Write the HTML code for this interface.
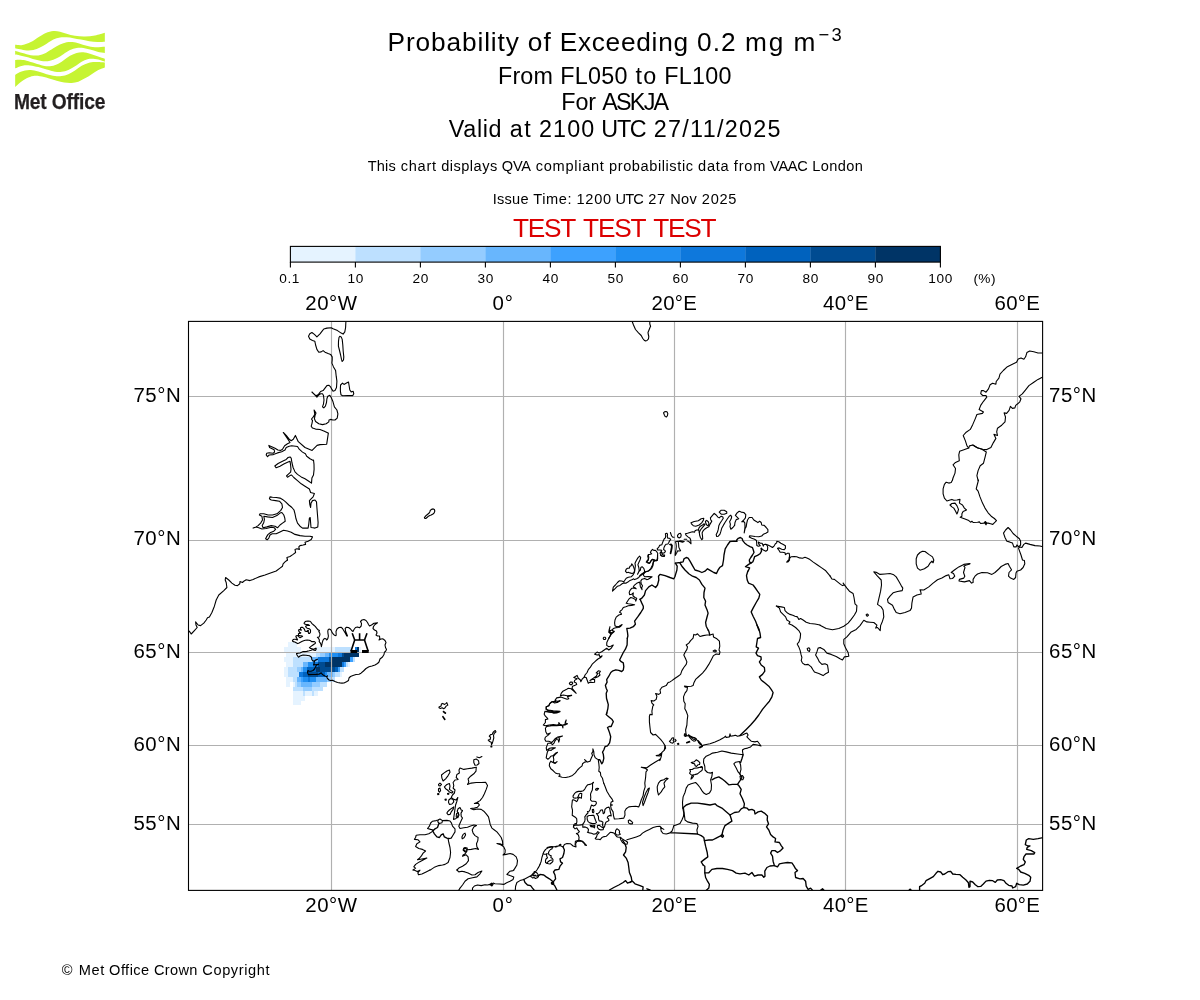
<!DOCTYPE html>
<html><head><meta charset="utf-8"><title>Probability of Exceeding 0.2 mg m-3</title>
<style>
html,body{margin:0;padding:0;background:#fff;}
body{width:1200px;height:1000px;position:relative;overflow:hidden;font-family:"Liberation Sans",sans-serif;}
.t{position:absolute;white-space:nowrap;font-family:"Liberation Sans",sans-serif;}
.t span{position:absolute;top:0;white-space:nowrap;}
svg{position:absolute;left:0;top:0;}
#map path.c{fill:none;stroke:#000;stroke-width:1.1;stroke-linejoin:round;stroke-linecap:round;}
#map path.b{fill:none;stroke:#000;stroke-width:1.35;stroke-linejoin:round;stroke-linecap:round;}
</style></head><body>
<svg id="gfx" width="1200" height="1000" viewBox="0 0 1200 1000">
<g id="logo">
<path d="M15.17 44.83 C16.39 44.86 19.89 45.46 22.50 45.00 C25.11 44.54 28.06 43.47 30.83 42.08 C33.61 40.69 36.67 38.19 39.17 36.67 C41.67 35.14 43.47 33.85 45.83 32.92 C48.19 31.99 50.97 31.29 53.33 31.08 C55.69 30.88 57.78 31.22 60.00 31.67 C62.22 32.11 64.17 33.06 66.67 33.75 C69.17 34.44 71.94 35.38 75.00 35.83 C78.06 36.29 81.67 36.57 85.00 36.50 C88.33 36.43 91.69 36.06 95.00 35.42 C98.31 34.78 103.19 33.12 104.83 32.67 L104.83 41.67 C103.61 41.74 100.11 42.15 97.50 42.08 C94.89 42.01 91.94 41.67 89.17 41.25 C86.39 40.83 83.47 40.10 80.83 39.58 C78.19 39.07 75.69 38.54 73.33 38.17 C70.97 37.79 68.89 37.44 66.67 37.33 C64.44 37.22 62.22 37.12 60.00 37.50 C57.78 37.88 55.56 38.54 53.33 39.58 C51.11 40.62 48.89 42.43 46.67 43.75 C44.44 45.07 42.22 46.46 40.00 47.50 C37.78 48.54 35.56 49.51 33.33 50.00 C31.11 50.49 28.89 50.56 26.67 50.42 C24.44 50.28 21.92 49.54 20.00 49.17 C18.08 48.79 15.97 48.33 15.17 48.17 Z" fill="#c6f432"/>
<path d="M15.17 50.67 C16.39 51.04 19.89 52.17 22.50 52.92 C25.11 53.67 28.19 54.75 30.83 55.17 C33.47 55.58 35.83 55.79 38.33 55.42 C40.83 55.04 43.33 54.10 45.83 52.92 C48.33 51.74 50.97 49.72 53.33 48.33 C55.69 46.94 57.78 45.58 60.00 44.58 C62.22 43.58 64.58 42.75 66.67 42.33 C68.75 41.92 70.42 41.89 72.50 42.08 C74.58 42.28 76.81 42.88 79.17 43.50 C81.53 44.12 84.03 45.19 86.67 45.83 C89.31 46.47 91.97 47.17 95.00 47.33 C98.03 47.50 103.19 46.92 104.83 46.83 L104.83 52.92 C103.61 52.71 99.97 52.22 97.50 51.67 C95.03 51.11 92.36 50.21 90.00 49.58 C87.64 48.96 85.56 48.19 83.33 47.92 C81.11 47.64 78.89 47.57 76.67 47.92 C74.44 48.26 72.22 48.96 70.00 50.00 C67.78 51.04 65.56 52.78 63.33 54.17 C61.11 55.56 58.89 57.22 56.67 58.33 C54.44 59.44 52.22 60.35 50.00 60.83 C47.78 61.32 45.83 61.46 43.33 61.25 C40.83 61.04 37.78 60.28 35.00 59.58 C32.22 58.89 29.17 57.78 26.67 57.08 C24.17 56.39 21.92 55.83 20.00 55.42 C18.08 55.00 15.97 54.72 15.17 54.58 Z" fill="#c6f432"/>
<path d="M15.17 60.00 C16.11 59.97 18.92 59.69 20.83 59.83 C22.75 59.97 24.31 60.25 26.67 60.83 C29.03 61.42 32.22 62.53 35.00 63.33 C37.78 64.14 40.83 65.18 43.33 65.67 C45.83 66.15 47.78 66.43 50.00 66.25 C52.22 66.07 54.44 65.56 56.67 64.58 C58.89 63.61 61.11 61.88 63.33 60.42 C65.56 58.96 67.78 57.08 70.00 55.83 C72.22 54.58 74.44 53.50 76.67 52.92 C78.89 52.33 81.11 52.19 83.33 52.33 C85.56 52.47 87.64 53.10 90.00 53.75 C92.36 54.40 95.03 55.42 97.50 56.25 C99.97 57.08 103.61 58.33 104.83 58.75 L104.83 61.67 C104.03 61.39 101.92 60.49 100.00 60.00 C98.08 59.51 95.42 58.89 93.33 58.75 C91.25 58.61 89.44 58.68 87.50 59.17 C85.56 59.65 83.75 60.49 81.67 61.67 C79.58 62.85 77.22 64.86 75.00 66.25 C72.78 67.64 70.56 69.07 68.33 70.00 C66.11 70.93 63.89 71.56 61.67 71.83 C59.44 72.11 57.50 72.04 55.00 71.67 C52.50 71.29 49.44 70.35 46.67 69.58 C43.89 68.82 41.11 67.78 38.33 67.08 C35.56 66.39 32.64 65.65 30.00 65.42 C27.36 65.18 24.97 65.18 22.50 65.67 C20.03 66.15 16.39 67.89 15.17 68.33 Z" fill="#c6f432"/>
<path d="M15.17 75.00 C15.97 74.51 18.36 72.85 20.00 72.08 C21.64 71.32 23.19 70.76 25.00 70.42 C26.81 70.07 28.61 69.82 30.83 70.00 C33.06 70.18 35.69 70.81 38.33 71.50 C40.97 72.19 43.89 73.42 46.67 74.17 C49.44 74.92 52.50 75.69 55.00 76.00 C57.50 76.31 59.44 76.31 61.67 76.00 C63.89 75.69 66.11 75.10 68.33 74.17 C70.56 73.24 72.78 71.81 75.00 70.42 C77.22 69.03 79.44 67.08 81.67 65.83 C83.89 64.58 86.11 63.54 88.33 62.92 C90.56 62.29 92.25 62.15 95.00 62.08 C97.75 62.01 103.19 62.43 104.83 62.50 L104.83 67.50 C103.75 67.92 100.53 68.89 98.33 70.00 C96.14 71.11 93.89 72.78 91.67 74.17 C89.44 75.56 87.22 77.08 85.00 78.33 C82.78 79.58 80.56 80.90 78.33 81.67 C76.11 82.43 74.03 82.78 71.67 82.92 C69.31 83.06 66.67 82.88 64.17 82.50 C61.67 82.12 59.31 81.39 56.67 80.67 C54.03 79.94 51.11 78.90 48.33 78.17 C45.56 77.43 42.50 76.61 40.00 76.25 C37.50 75.89 35.56 75.65 33.33 76.00 C31.11 76.35 28.75 77.32 26.67 78.33 C24.58 79.35 22.75 80.63 20.83 82.08 C18.92 83.54 16.11 86.25 15.17 87.08 Z" fill="#c6f432"/>
</g>
<rect x="290.40" y="246.4" width="65.30" height="15.70" fill="#e5f3ff"/>
<rect x="355.40" y="246.4" width="65.30" height="15.70" fill="#bde0ff"/>
<rect x="420.40" y="246.4" width="65.30" height="15.70" fill="#94ccff"/>
<rect x="485.40" y="246.4" width="65.30" height="15.70" fill="#68b6fd"/>
<rect x="550.40" y="246.4" width="65.30" height="15.70" fill="#3da1fe"/>
<rect x="615.40" y="246.4" width="65.30" height="15.70" fill="#1f8ef1"/>
<rect x="680.40" y="246.4" width="65.30" height="15.70" fill="#0e78dc"/>
<rect x="745.40" y="246.4" width="65.30" height="15.70" fill="#0062be"/>
<rect x="810.40" y="246.4" width="65.30" height="15.70" fill="#004b91"/>
<rect x="875.40" y="246.4" width="65.30" height="15.70" fill="#003466"/>
<rect x="290.4" y="246.4" width="650.0" height="15.70" fill="none" stroke="#000" stroke-width="1.1"/>
<line x1="290.40" y1="262.1" x2="290.40" y2="267.40" stroke="#000" stroke-width="1.1"/>
<line x1="355.40" y1="262.1" x2="355.40" y2="267.40" stroke="#000" stroke-width="1.1"/>
<line x1="420.40" y1="262.1" x2="420.40" y2="267.40" stroke="#000" stroke-width="1.1"/>
<line x1="485.40" y1="262.1" x2="485.40" y2="267.40" stroke="#000" stroke-width="1.1"/>
<line x1="550.40" y1="262.1" x2="550.40" y2="267.40" stroke="#000" stroke-width="1.1"/>
<line x1="615.40" y1="262.1" x2="615.40" y2="267.40" stroke="#000" stroke-width="1.1"/>
<line x1="680.40" y1="262.1" x2="680.40" y2="267.40" stroke="#000" stroke-width="1.1"/>
<line x1="745.40" y1="262.1" x2="745.40" y2="267.40" stroke="#000" stroke-width="1.1"/>
<line x1="810.40" y1="262.1" x2="810.40" y2="267.40" stroke="#000" stroke-width="1.1"/>
<line x1="875.40" y1="262.1" x2="875.40" y2="267.40" stroke="#000" stroke-width="1.1"/>
<line x1="940.40" y1="262.1" x2="940.40" y2="267.40" stroke="#000" stroke-width="1.1"/>
<g id="map">
<clipPath id="ax"><rect x="188.5" y="321.4" width="854.0999999999999" height="569.0"/></clipPath>
<g clip-path="url(#ax)">
<rect x="288" y="642" width="9" height="5" fill="#e5f3ff"/>
<rect x="284" y="647" width="17" height="5" fill="#e5f3ff"/>
<rect x="316" y="647" width="19" height="5" fill="#e5f3ff"/>
<rect x="335" y="647" width="16" height="5" fill="#bde0ff"/>
<rect x="355" y="647" width="2" height="5" fill="#0e78dc"/>
<rect x="357" y="647" width="2" height="5" fill="#003466"/>
<rect x="359" y="647" width="2" height="5" fill="#e5f3ff"/>
<rect x="286" y="652" width="30" height="5" fill="#e5f3ff"/>
<rect x="316" y="652" width="4" height="5" fill="#bde0ff"/>
<rect x="320" y="652" width="5" height="5" fill="#94ccff"/>
<rect x="325" y="652" width="4" height="5" fill="#68b6fd"/>
<rect x="329" y="652" width="9" height="5" fill="#1f8ef1"/>
<rect x="338" y="652" width="4" height="5" fill="#0e78dc"/>
<rect x="342" y="652" width="2" height="5" fill="#004b91"/>
<rect x="344" y="652" width="15" height="5" fill="#003466"/>
<rect x="284" y="657" width="9" height="5" fill="#e5f3ff"/>
<rect x="293" y="657" width="19" height="5" fill="#bde0ff"/>
<rect x="312" y="657" width="6" height="5" fill="#68b6fd"/>
<rect x="318" y="657" width="11" height="5" fill="#0e78dc"/>
<rect x="329" y="657" width="3" height="5" fill="#004b91"/>
<rect x="332" y="657" width="18" height="5" fill="#003466"/>
<rect x="350" y="657" width="3" height="5" fill="#3da1fe"/>
<rect x="353" y="657" width="2" height="5" fill="#bde0ff"/>
<rect x="286" y="662" width="7" height="5" fill="#e5f3ff"/>
<rect x="293" y="662" width="10" height="5" fill="#bde0ff"/>
<rect x="303" y="662" width="5" height="5" fill="#68b6fd"/>
<rect x="308" y="662" width="5" height="5" fill="#1f8ef1"/>
<rect x="313" y="662" width="5" height="5" fill="#0e78dc"/>
<rect x="318" y="662" width="7" height="5" fill="#004b91"/>
<rect x="325" y="662" width="17" height="5" fill="#003466"/>
<rect x="342" y="662" width="2" height="5" fill="#0e78dc"/>
<rect x="344" y="662" width="2" height="5" fill="#3da1fe"/>
<rect x="346" y="662" width="2" height="5" fill="#bde0ff"/>
<rect x="348" y="662" width="2" height="5" fill="#e5f3ff"/>
<rect x="284" y="667" width="4" height="5" fill="#e5f3ff"/>
<rect x="288" y="667" width="9" height="5" fill="#bde0ff"/>
<rect x="297" y="667" width="4" height="5" fill="#94ccff"/>
<rect x="301" y="667" width="2" height="5" fill="#68b6fd"/>
<rect x="303" y="667" width="4" height="5" fill="#1f8ef1"/>
<rect x="307" y="667" width="9" height="5" fill="#0062be"/>
<rect x="316" y="667" width="4" height="5" fill="#003466"/>
<rect x="320" y="667" width="15" height="5" fill="#004b91"/>
<rect x="335" y="667" width="3" height="5" fill="#0062be"/>
<rect x="338" y="667" width="2" height="5" fill="#3da1fe"/>
<rect x="340" y="667" width="4" height="5" fill="#bde0ff"/>
<rect x="284" y="672" width="4" height="5" fill="#e5f3ff"/>
<rect x="288" y="672" width="11" height="5" fill="#bde0ff"/>
<rect x="299" y="672" width="4" height="5" fill="#0e78dc"/>
<rect x="303" y="672" width="5" height="5" fill="#0062be"/>
<rect x="308" y="672" width="10" height="5" fill="#004b91"/>
<rect x="318" y="672" width="7" height="5" fill="#0062be"/>
<rect x="325" y="672" width="2" height="5" fill="#1f8ef1"/>
<rect x="327" y="672" width="6" height="5" fill="#68b6fd"/>
<rect x="333" y="672" width="2" height="5" fill="#94ccff"/>
<rect x="335" y="672" width="5" height="5" fill="#bde0ff"/>
<rect x="340" y="672" width="2" height="5" fill="#e5f3ff"/>
<rect x="286" y="677" width="7" height="5" fill="#e5f3ff"/>
<rect x="293" y="677" width="4" height="5" fill="#bde0ff"/>
<rect x="297" y="677" width="4" height="5" fill="#68b6fd"/>
<rect x="301" y="677" width="2" height="5" fill="#3da1fe"/>
<rect x="303" y="677" width="5" height="5" fill="#1f8ef1"/>
<rect x="308" y="677" width="2" height="5" fill="#0e78dc"/>
<rect x="310" y="677" width="6" height="5" fill="#1f8ef1"/>
<rect x="316" y="677" width="11" height="5" fill="#68b6fd"/>
<rect x="327" y="677" width="5" height="5" fill="#94ccff"/>
<rect x="332" y="677" width="3" height="5" fill="#bde0ff"/>
<rect x="286" y="682" width="4" height="5" fill="#e5f3ff"/>
<rect x="293" y="682" width="2" height="5" fill="#e5f3ff"/>
<rect x="295" y="682" width="2" height="5" fill="#bde0ff"/>
<rect x="297" y="682" width="4" height="5" fill="#94ccff"/>
<rect x="301" y="682" width="11" height="5" fill="#68b6fd"/>
<rect x="312" y="682" width="8" height="5" fill="#94ccff"/>
<rect x="320" y="682" width="7" height="5" fill="#bde0ff"/>
<rect x="293" y="687" width="10" height="4" fill="#bde0ff"/>
<rect x="303" y="687" width="9" height="4" fill="#94ccff"/>
<rect x="312" y="687" width="11" height="4" fill="#bde0ff"/>
<rect x="293" y="691" width="10" height="5" fill="#e5f3ff"/>
<rect x="303" y="691" width="2" height="5" fill="#bde0ff"/>
<rect x="305" y="691" width="7" height="5" fill="#e5f3ff"/>
<rect x="312" y="691" width="2" height="5" fill="#bde0ff"/>
<rect x="314" y="691" width="4" height="5" fill="#e5f3ff"/>
<rect x="293" y="696" width="12" height="5" fill="#e5f3ff"/>
<rect x="293" y="701" width="8" height="4" fill="#e5f3ff"/>
<line x1="331.50" y1="321.4" x2="331.50" y2="890.4" stroke="#b0b0b0" stroke-width="1.15"/>
<line x1="503.50" y1="321.4" x2="503.50" y2="890.4" stroke="#b0b0b0" stroke-width="1.15"/>
<line x1="674.50" y1="321.4" x2="674.50" y2="890.4" stroke="#b0b0b0" stroke-width="1.15"/>
<line x1="845.50" y1="321.4" x2="845.50" y2="890.4" stroke="#b0b0b0" stroke-width="1.15"/>
<line x1="1017.50" y1="321.4" x2="1017.50" y2="890.4" stroke="#b0b0b0" stroke-width="1.15"/>
<line x1="188.5" y1="396.50" x2="1042.6" y2="396.50" stroke="#b0b0b0" stroke-width="1.15"/>
<line x1="188.5" y1="540.50" x2="1042.6" y2="540.50" stroke="#b0b0b0" stroke-width="1.15"/>
<line x1="188.5" y1="652.50" x2="1042.6" y2="652.50" stroke="#b0b0b0" stroke-width="1.15"/>
<line x1="188.5" y1="745.50" x2="1042.6" y2="745.50" stroke="#b0b0b0" stroke-width="1.15"/>
<line x1="188.5" y1="824.50" x2="1042.6" y2="824.50" stroke="#b0b0b0" stroke-width="1.15"/>
<path class="c" d="M345.9 321.5 L345.6 327.5 L344.8 331.9 L343.1 334.1 L341.2 333.1 L337.5 330.6 L333.1 328.8 L331.2 327.8 L326.9 328.1 L323.8 329.0 L322.5 330.6 L320.0 333.8 L316.9 336.9 L314.4 334.4 L311.9 332.5 L309.8 333.8 L308.5 336.2 L309.8 339.0 L312.5 340.4 L314.8 341.2 L315.6 345.0 L316.9 349.4 L318.8 352.2 L321.2 351.9 L323.1 350.6 L325.0 352.2 L328.1 353.5 L330.6 354.4 L332.2 356.9 L332.2 360.0 L331.9 363.1 L333.5 366.9 L335.6 370.6 L336.2 376.2 L336.9 381.2 L336.5 387.5 L335.0 390.6 L333.1 391.2 L331.9 389.4 L330.6 386.9 L328.8 385.2 L326.9 385.6 L325.0 388.1 L323.1 390.6 L320.6 391.5 L318.8 393.8 L316.9 395.6 L315.0 395.0 L313.1 393.1 L311.9 392.0 L315.6 395.6 L316.9 397.2 L318.8 395.0 L320.6 393.8 L322.5 393.8 L323.5 395.6 L324.0 400.0 L323.5 403.8 L322.5 406.9 L323.8 407.9 L325.4 406.2 L326.5 402.5 L326.9 398.8 L327.8 396.2 L329.8 395.2 L331.2 397.5 L332.8 401.2 L334.4 406.9 L336.9 410.0 L337.9 413.8 L337.2 418.1 L335.0 420.0 L332.8 420.0 L330.6 419.4 L329.0 420.0 L328.8 421.9 L326.2 423.8 L322.5 424.6 L318.8 423.8 L315.6 421.5 L314.4 418.8 L315.0 415.6 L316.0 413.1 L314.1 410.0 L314.8 414.4 L313.1 417.2 L311.5 419.0 L312.5 420.6 L311.9 423.8 L311.2 426.2 L312.5 428.1 L315.6 429.1 L320.0 429.5 L323.8 431.0 L328.1 433.1"/>
<path class="c" d="M339.8 336.2 L341.2 336.9 L342.2 339.4 L342.8 345.0 L343.2 351.2 L343.8 356.9 L343.5 360.0 L342.2 361.5 L341.5 359.4 L340.6 355.0 L339.4 350.0 L338.4 346.2 L338.5 341.2 L339.0 337.5Z"/>
<path class="c" d="M340.6 385.0 L342.5 383.1 L344.0 384.4 L346.5 383.1 L348.5 382.1 L349.0 385.0 L349.8 390.0 L351.2 391.9 L353.1 391.2 L353.8 393.8 L352.8 395.6 L347.5 395.6 L342.5 395.8 L341.0 394.8 L340.4 391.2 L340.4 387.5Z"/>
<path class="c" d="M328.3 433.3 L326.7 444.2 L320.0 444.6 L317.1 445.4 L312.1 450.4 L305.0 447.5 L298.3 441.7 L295.4 435.4 L293.3 439.2 L291.2 440.7 L289.2 439.2 L286.2 435.4 L283.3 432.5 L286.7 437.5 L290.0 442.5 L287.5 443.8 L284.6 445.8 L282.5 449.2 L280.8 450.4 L277.9 450.0 L275.0 448.2 L271.7 446.7 L268.8 445.4 L269.6 447.5 L274.2 449.8 L274.6 452.1 L272.9 453.3 L269.2 452.7 L266.7 453.3 L266.2 455.0 L267.5 456.7 L269.2 455.0 L273.3 454.6 L277.5 452.9 L281.7 451.7 L285.0 450.0 L286.2 447.5 L289.2 446.2 L291.7 445.7 L297.5 446.5 L299.2 449.2 L302.5 452.1 L305.4 453.8 L306.7 456.2 L310.0 458.8 L313.3 460.4"/>
<path class="c" d="M313.5 460.0 L314.0 464.4 L314.1 469.4 L313.5 475.0 L311.9 478.1 L311.5 483.1 L308.8 481.2 L305.0 478.8 L301.2 476.9 L297.5 474.4 L295.0 471.9 L293.1 467.5 L291.9 462.5 L291.2 458.1 L290.0 456.9 L288.1 457.5 L286.2 459.4 L282.5 461.2 L278.1 463.5 L274.8 466.0 L276.2 467.8 L280.0 466.2 L283.8 464.0 L287.5 462.2 L290.0 461.2 L290.6 465.0 L291.0 469.4 L290.6 472.2 L288.1 474.4 L286.5 476.0 L287.5 477.2 L290.0 475.6 L291.6 475.0 L293.8 477.5 L297.5 480.6 L301.2 483.8 L305.0 486.2 L309.4 489.0 L310.6 492.5 L314.4 493.5 L313.1 496.9 L310.6 499.4 L309.4 500.6 L309.8 504.4 L310.6 507.5 L311.0 503.1 L312.5 500.6 L315.0 500.0 L316.5 501.9 L316.9 507.5 L317.5 515.0 L318.1 522.5 L317.8 526.9 L315.0 528.1 L313.1 527.8 L311.0 527.5 L310.6 522.5 L310.2 517.5 L309.4 518.1 L308.8 523.8 L308.1 528.1 L305.0 528.1 L302.5 528.1 L300.0 526.2 L297.5 523.1 L296.0 518.8 L295.0 513.8 L294.0 510.0 L291.9 507.5 L288.8 505.0 L285.6 501.9 L282.5 499.4 L280.0 498.1 L276.2 497.5 L272.5 497.2 L270.0 496.9 L269.4 498.8 L271.2 500.0 L275.6 500.6 L279.4 501.2 L281.9 503.8 L282.5 507.5 L280.6 510.6 L276.9 513.8 L272.5 515.0 L268.1 515.0 L263.8 513.8 L260.0 513.8 L259.4 515.0 L261.9 516.2 L262.5 520.0 L260.6 523.1 L258.1 525.6 L255.6 527.2 L253.1 528.1 L256.2 526.9 L258.8 527.8 L261.9 529.0 L266.2 528.5 L271.2 527.2 L274.4 527.8 L275.6 529.4 L273.8 531.2 L270.6 532.5 L268.1 534.4 L266.5 536.9 L265.6 538.8 L267.2 539.8 L268.8 538.1 L270.0 535.0 L272.2 533.8 L276.2 533.8 L280.0 531.9 L283.5 530.2 L287.5 531.0 L291.2 532.2 L295.0 534.4 L300.0 535.6 L305.0 536.2 L310.0 536.2 L312.5 536.9 L311.2 539.4 L308.1 541.2 L305.0 542.2 L305.6 544.4 L303.1 545.0 L300.0 545.6 L298.8 546.9 L299.4 549.4 L296.9 548.8 L295.0 549.4 L295.6 552.5 L293.1 554.4 L290.0 556.5 L286.9 557.5 L287.5 560.0"/>
<path class="c" d="M263.8 516.2 L267.5 516.9 L272.5 517.5 L276.9 515.6 L280.0 513.1 L281.9 512.5 L283.8 515.0 L284.8 518.1 L285.2 521.2 L282.5 523.1 L280.0 525.0 L277.5 527.8 L275.0 526.2 L271.2 525.6 L266.9 526.9 L263.1 527.8 L262.2 525.6 L263.8 522.5 L264.4 519.4Z"/>
<path class="c" d="M287.5 560.0 L285.0 561.9 L283.1 563.8 L282.5 566.2 L280.0 568.1 L276.2 571.0 L271.2 572.8 L265.0 575.0 L258.8 576.9 L253.1 579.4 L250.0 580.6 L246.2 579.8 L243.8 581.2 L242.5 582.5 L240.0 581.5 L239.8 583.8 L237.5 585.6 L235.0 585.2 L231.9 583.1 L228.8 580.0 L225.6 577.5 L225.2 580.0 L226.2 582.5 L226.9 587.5 L223.8 590.6 L218.8 595.0 L216.2 600.0 L214.4 606.2 L211.9 612.5 L209.4 616.9 L207.5 617.8 L206.2 620.0 L203.8 623.1 L200.6 625.6 L198.1 625.0 L195.6 621.9 L196.0 625.0 L197.2 627.5 L194.4 630.6 L191.2 634.0 L189.4 631.2 L187.5 632.5"/>
<path class="c" d="M304.8 622.0 L306.0 621.3 L308.0 621.0 L309.8 621.2 L311.0 622.2 L312.0 623.6 L313.6 625.0 L315.2 626.4 L316.6 628.2 L318.0 629.8 L319.4 630.6 L318.8 631.6 L319.6 632.8 L320.0 634.2 L319.6 636.0 L318.8 637.2 L317.4 637.4 L318.6 638.4 L319.4 640.0 L319.2 641.6 L320.2 642.8 L321.0 644.6 L321.4 646.6 L321.8 644.8 L322.2 642.8 L322.8 640.8 L323.6 639.2 L324.8 638.4 L326.0 638.8 L326.6 640.0 L327.4 639.4 L328.0 638.0 L328.4 636.0 L328.0 633.6 L327.8 631.2 L328.2 629.6 L329.2 629.0 L330.4 629.4 L331.4 630.8 L332.0 632.4 L333.2 634.0 L334.4 635.2 L336.0 635.6 L336.2 634.5 L336.0 631.5 L337.0 629.0 L339.0 627.5 L341.0 627.2 L342.5 628.5 L344.0 631.0 L345.5 633.5 L346.8 636.0 L347.5 636.0 L346.5 633.5 L345.5 631.0 L345.2 628.5 L346.5 627.2 L348.5 627.5 L350.5 629.0 L352.0 630.8 L353.0 631.5 L354.0 629.5 L355.5 627.5 L357.5 627.0 L359.5 627.8 L361.2 626.0 L361.5 623.5 L360.5 621.5 L362.0 620.0 L364.0 619.5 L366.0 620.5 L367.5 622.5 L368.5 624.5 L369.5 626.0 L371.5 625.0 L374.0 623.2 L377.5 622.8 L375.0 624.5 L373.5 626.5 L373.0 628.5 L374.5 630.0 L376.5 631.0 L377.0 633.0 L376.0 635.0 L377.5 636.0 L379.5 636.0 L379.8 638.5 L379.0 640.0 L381.0 639.0 L383.0 638.8 L385.0 640.5 L386.0 642.5 L385.0 645.0 L385.5 647.5 L386.5 649.5 L385.5 651.5 L384.5 652.0 L384.0 654.5 L382.5 657.0 L380.0 659.0 L379.0 662.0 L377.5 663.5 L375.0 665.0 L372.0 666.0 L369.0 666.8 L366.0 668.5 L363.5 671.0 L361.0 673.2 L359.0 674.2 L356.0 674.5 L353.0 675.5 L350.5 676.5 L349.0 678.0 L348.5 680.5 L346.5 681.8 L344.0 683.0 L342.0 683.1 L340.0 682.9 L337.5 682.5 L335.0 681.5 L332.5 680.2 L330.5 680.5 L329.0 680.0 L327.5 678.5 L326.8 677.2 L327.5 675.8 L327.0 676.8 L325.5 676.2 L323.5 675.2 L322.0 674.0 L321.2 672.8 L320.5 673.2 L319.0 674.2 L316.0 674.4 L312.0 674.5 L308.5 674.6 L308.0 674.0 L307.5 672.0 L308.0 670.5 L309.0 671.2 L311.0 671.2 L313.0 670.5 L314.5 669.0 L315.5 667.0 L316.5 665.0 L318.5 664.4 L317.0 664.5 L315.0 664.8 L313.5 665.0 L314.0 664.0 L314.2 662.0 L315.0 660.5 L317.5 659.2 L316.0 659.8 L314.0 661.2 L312.5 660.5 L311.8 659.5 L311.5 657.2 L309.5 655.8 L306.0 655.2 L303.0 655.0 L300.0 656.0 L298.5 657.2 L297.0 655.0 L296.5 653.5 L296.6 653.8 L298.0 653.2 L300.0 653.0 L303.2 651.6 L304.8 651.6 L306.8 651.4 L309.2 650.8 L311.2 650.2 L312.8 649.6 L314.0 650.2 L315.4 650.4 L316.0 649.6 L316.2 648.2 L315.2 648.4 L313.6 649.2 L312.0 648.8 L310.4 648.4 L309.4 647.6 L311.0 646.4 L312.6 645.2 L314.0 644.2 L315.2 643.6 L315.4 642.4 L314.4 641.6 L312.8 641.6 L311.6 641.6 L310.6 640.8 L309.2 640.2 L307.2 640.0 L305.2 640.3 L303.6 640.8 L301.8 641.6 L300.0 642.4 L298.6 643.2 L297.6 643.6 L296.2 642.8 L294.8 642.0 L293.2 641.6 L292.4 641.0 L292.8 640.0 L294.0 639.2 L295.4 639.2 L296.6 639.8 L297.6 640.0 L297.0 638.6 L296.2 637.4 L295.8 636.2 L297.0 635.6 L298.2 635.8 L299.0 636.8 L299.8 637.6 L300.8 637.4 L301.8 636.8 L302.6 636.2 L301.2 635.8 L299.6 635.6 L298.6 635.2 L298.4 634.0 L299.2 633.2 L300.2 633.4 L300.8 632.8 L299.6 632.2 L298.8 631.2 L298.6 630.0 L299.4 629.6 L300.4 630.0 L301.4 630.2 L300.6 629.2 L300.4 628.0 L301.4 627.2 L302.6 627.4 L303.8 628.4 L304.6 629.6 L305.0 631.0 L306.0 631.4 L307.2 631.4 L307.8 630.4 L308.4 630.6 L308.2 632.0 L308.6 633.4 L309.6 633.4 L310.4 632.4 L310.6 630.8 L310.2 629.4 L308.8 628.6 L307.2 628.2 L306.2 627.4 L305.6 626.4 L306.4 625.6 L308.0 625.2 L309.6 625.4 L308.0 624.6 L306.0 624.4 L304.6 624.0 L304.0 623.2Z"/>
<path class="c" d="M632.0 321.0 L633.5 325.0 L635.5 329.5 L638.5 332.8 L641.2 335.5 L642.8 338.5 L644.2 340.2 L645.5 340.9 L647.0 340.5 L648.5 338.8 L648.8 336.5 L648.2 334.0 L648.0 332.5 L649.0 330.0 L650.0 327.5 L650.6 326.2 L649.8 324.0 L649.8 321.0"/>
<path class="c" d="M663.5 412.8 L664.5 411.8 L666.0 411.5 L667.2 412.1 L667.8 413.5 L667.5 415.5 L666.5 417.0 L665.2 416.5 L664.4 415.2 L664.0 414.0Z"/>
<path class="c" d="M430.2 510.5 L431.5 509.4 L433.2 508.9 L434.4 509.5 L434.8 511.0 L434.2 512.8 L433.0 514.0 L431.2 515.0 L429.8 515.5 L428.5 516.2 L427.0 517.5 L425.8 518.5 L424.9 518.4 L424.4 517.6 L425.2 516.5 L426.5 515.2 L428.0 514.0 L429.2 513.0 L429.9 511.8Z"/>
<path class="c" d="M734.6 525.4 L732.9 527.5 L730.8 529.2 L730.0 526.7 L730.4 524.2 L729.6 521.7 L731.2 518.8 L731.7 516.7 L730.8 515.2 L729.2 516.2 L727.1 519.2 L725.0 522.5 L723.3 525.4 L721.7 528.3 L720.8 531.7 L720.0 534.2 L718.3 536.2 L716.7 536.5 L716.2 534.6 L717.5 532.1 L718.3 529.2 L718.8 525.8 L720.0 523.3 L721.7 520.8 L723.3 518.3 L722.9 517.1 L721.2 516.2 L719.2 517.9 L717.9 517.1 L716.2 515.0 L714.2 513.3 L712.5 515.4 L710.4 517.9 L710.8 520.0 L711.8 521.2 L710.8 522.9 L709.6 525.0 L708.8 526.8 L706.7 527.7 L704.6 529.2 L702.9 531.2 L702.1 532.9 L702.5 535.8 L702.7 538.8 L701.8 539.6 L700.4 537.5 L699.6 535.0 L699.3 532.5 L698.8 530.0 L696.7 530.0 L695.0 530.8 L694.6 532.1 L692.5 531.7 L690.0 532.5 L687.5 533.3 L685.4 533.8 L686.2 535.4 L688.3 537.1 L690.0 538.3 L690.7 540.0 L691.0 543.8 L689.8 542.5 L688.3 541.2 L687.1 541.0"/>
<path class="c" d="M705.4 521.2 L706.7 520.4 L708.3 521.7 L709.0 523.8 L708.2 525.8 L706.7 525.0 L705.8 523.3Z"/>
<path class="c" d="M699.3 532.5 L700.4 530.0 L702.1 527.9 L703.8 525.8 L705.0 524.6 L704.2 523.8 L702.5 525.0 L700.4 526.2 L699.0 527.9 L698.3 530.0"/>
<path class="c" d="M691.0 522.7 L694.2 521.5 L698.3 520.8 L701.2 518.8 L703.8 518.3 L703.3 520.4 L701.7 522.9 L699.2 525.0 L695.8 526.2 L693.3 525.7 L691.7 524.2Z"/>
<path class="c" d="M719.2 512.1 L721.2 510.2 L724.2 510.2 L726.7 511.7 L726.8 513.3 L724.2 514.3 L721.2 514.2Z"/>
<path class="c" d="M684.2 539.2 L686.7 539.2"/>
<path class="c" d="M675.4 541.7 L677.9 541.2 L680.0 541.4 L682.5 542.2 L684.2 541.5 L682.1 541.0 L680.0 540.8 L678.3 541.7 L678.6 544.2 L678.8 547.1 L679.5 548.9 L680.6 550.7 L679.0 551.0 L677.7 550.8 L676.5 553.2 L675.2 555.4 L675.4 552.5 L676.0 549.6 L676.3 546.2 L676.0 543.5Z"/>
<path class="c" d="M669.6 544.6 L671.2 544.0 L672.3 545.4 L672.1 547.9 L671.5 550.8 L670.8 553.7 L670.2 553.3 L670.8 550.7 L671.3 547.9 L671.5 545.8 L670.8 545.0Z"/>
<path class="c" d="M665.4 533.8 L666.7 533.2 L667.5 534.2 L667.3 536.7 L667.9 538.3 L669.6 538.3 L670.7 539.3 L669.6 540.8 L668.8 542.5 L667.9 544.0 L666.2 544.2 L665.0 545.4 L664.0 547.5 L663.6 549.6 L665.0 550.4 L665.4 551.7 L664.2 552.9 L662.5 553.2 L661.2 552.1 L661.8 550.4 L660.0 550.0 L657.7 550.0 L657.1 548.8 L658.8 547.1 L659.6 545.4 L661.8 544.8 L662.5 542.9 L663.3 540.8 L664.3 538.8 L665.4 537.9 L665.7 535.8Z"/>
<path class="c" d="M652.5 549.3 L653.8 550.4 L655.4 550.4 L656.7 551.7 L657.7 553.3 L657.5 556.7 L657.1 560.4 L655.0 560.0 L652.5 559.2 L650.8 561.2 L649.6 563.3 L647.9 562.9 L646.2 562.1 L647.9 560.4 L648.3 558.3 L647.7 556.2 L648.3 554.6 L650.4 554.2 L651.7 553.8 L650.4 552.5 L651.2 550.8Z"/>
<path class="c" d="M670.4 532.5 L671.0 534.2 L671.7 536.0 L672.7 537.1 L674.2 537.3"/>
<path class="c" d="M677.5 535.4 L678.8 533.8 L680.4 533.3 L681.2 535.0 L680.7 537.1 L679.2 537.9 L677.7 537.1Z"/>
<path class="c" d="M660.4 552.1 L661.8 552.9 L662.5 554.6 L664.6 555.4 L664.2 556.5 L662.1 556.0 L660.8 554.6 L660.0 553.3Z"/>
<path class="c" d="M657.1 560.4 L654.6 560.8 L653.3 561.8 L652.5 565.0 L650.8 568.5 L648.3 571.2 L645.8 571.7 L643.3 573.5 L640.0 576.0"/>
<path class="b" d="M675.4 563.1 L680.0 562.5 L683.1 561.9 L684.0 558.8 L686.2 557.5 L688.1 558.1 L690.0 561.2 L692.5 565.6 L695.0 570.0 L698.8 571.2 L701.9 572.5 L705.0 571.2 L707.5 568.8 L710.6 570.6 L713.8 572.5 L716.5 573.5 L718.1 570.0 L720.0 567.2 L722.5 565.6 L723.5 560.0 L724.0 555.0 L725.2 548.8 L727.5 545.0 L730.0 541.5 L733.8 541.2 L736.9 541.2"/>
<path class="b" d="M736.8 541.2 L736.7 540.0 L738.3 538.3 L740.4 537.5 L742.1 538.5 L742.9 540.8 L744.6 542.9 L747.1 545.0 L750.0 546.7 L752.5 547.7 L753.3 550.0 L754.0 552.5 L752.5 555.0 L750.8 557.5 L749.3 560.0 L749.6 562.1 L751.2 562.9 L748.3 564.6 L745.4 566.7 L749.6 567.9 L748.3 570.8 L747.8 571.2"/>
<path class="b" d="M747.8 571.2 L746.5 575.6 L747.2 580.0 L748.5 583.1 L753.1 585.0 L755.0 587.5 L757.5 591.2 L759.8 594.4 L758.8 598.1 L756.2 602.5 L753.1 608.1 L751.2 611.9 L753.1 616.2 L755.6 621.2 L757.5 626.2 L758.8 630.0"/>
<path class="b" d="M680.0 563.1 L681.9 566.2 L685.0 570.0 L688.8 573.8 L692.5 576.2 L696.2 577.5 L699.4 580.0 L701.9 584.4 L705.0 588.1 L704.0 592.5 L703.8 597.5 L705.6 601.2 L705.0 605.0 L706.9 609.4 L708.1 613.1 L706.9 617.5 L705.6 622.5 L706.2 626.2 L708.1 630.0"/>
<path class="b" d="M675.4 563.1 L677.2 566.2 L676.9 570.0 L675.6 574.4 L675.0 576.5 L673.8 578.8 L670.0 577.5 L665.0 575.6 L660.0 574.4 L658.5 576.2 L658.8 580.0 L657.5 585.0 L655.6 587.5 L651.9 585.0 L648.8 586.9 L645.6 590.6 L644.4 595.0 L641.9 598.1 L640.0 599.4"/>
<path class="c" d="M734.6 525.4 L735.0 522.5 L736.2 519.6 L738.8 518.8 L737.1 517.1 L735.4 515.4 L737.1 512.9 L739.2 511.2 L741.2 512.1 L743.8 512.5 L745.8 514.6 L745.4 517.9 L743.8 520.0 L741.7 521.8 L743.8 521.5 L744.8 522.9 L745.0 526.7 L744.6 530.0 L744.2 532.9 L745.0 528.8 L746.2 526.7 L746.7 523.3 L747.5 520.0 L749.2 517.5 L752.1 517.5 L753.8 520.0 L756.7 521.7 L757.9 522.7 L759.6 521.2 L761.2 522.5 L761.7 525.0 L764.2 525.4 L766.2 527.5 L767.9 529.6 L767.9 532.1 L765.8 533.3 L763.3 534.3 L761.7 536.0 L758.8 536.8 L755.0 536.5 L751.7 536.0 L749.6 535.8 L749.3 537.1 L751.7 538.3 L754.6 539.3 L756.5 540.4 L756.7 543.3 L756.8 545.4 L758.3 546.2 L760.4 545.8 L758.8 544.2 L758.3 542.1 L760.4 543.3 L762.1 543.2 L762.9 545.0 L763.3 546.2 L763.8 544.6 L765.8 544.3 L767.9 545.0 L770.4 546.2 L772.5 547.5 L774.2 545.8 L775.4 543.8 L776.7 542.9 L776.8 541.2 L778.8 541.7 L780.8 543.3 L783.3 544.6 L785.4 545.8 L785.4 548.3 L784.2 549.6 L781.7 549.2 L779.2 547.9 L777.5 548.3 L778.8 550.0 L780.0 552.1 L782.5 552.3 L785.0 552.7 L785.4 554.6 L787.5 553.3 L789.2 553.3 L789.6 555.8 L789.0 558.3 L789.6 560.0 L788.3 561.7 L786.7 562.1 L788.8 559.6 L790.0 557.9 L791.2 556.7 L794.2 556.5 L796.7 556.7 L799.6 557.9 L802.5 558.3 L805.0 557.3 L807.5 558.3 L810.0 559.6 L813.3 562.1 L817.5 565.0 L821.7 567.9 L825.8 570.8 L828.3 573.8 L830.0 575.8"/>
<path class="b" d="M751.2 562.9 L752.9 561.7 L753.8 559.2 L754.6 556.7 L757.5 555.4 L760.0 553.8 L761.5 551.2 L761.2 548.3"/>
<path class="c" d="M761.2 548.3 L763.3 550.0 L765.8 551.2 L767.5 550.0 L767.7 547.1 L767.1 545.4 L765.8 544.3"/>
<path class="c" d="M830.0 575.9 L831.9 579.0 L834.4 579.4 L837.5 581.9 L840.6 584.4 L842.5 585.6 L844.4 585.0 L843.1 583.1 L845.0 585.6 L846.9 588.1 L849.4 591.2 L853.1 593.5 L854.0 597.5 L855.0 603.8 L856.9 605.6 L856.5 611.2 L854.4 615.0 L851.2 619.4 L848.1 623.1 L843.8 626.2 L838.8 628.5 L832.5 629.8 L826.2 628.5 L820.0 625.2"/>
<path class="c" d="M820.0 647.5 L823.8 649.4 L826.9 653.1 L831.2 654.4 L836.2 656.5 L840.0 658.8 L842.5 660.0 L844.4 656.9 L848.8 656.2 L848.1 652.5 L845.6 648.1 L843.8 643.8 L843.8 639.4 L846.9 636.9 L851.2 631.9 L856.2 629.4 L860.0 625.6 L863.8 620.2 L866.9 621.9 L870.0 622.2 L873.8 622.5 L876.9 625.2 L875.6 628.1 L877.5 627.5 L880.2 630.6 L880.6 625.6 L882.5 621.2 L883.8 616.9 L883.1 610.0 L881.2 606.9 L877.5 604.4 L878.8 598.8 L880.6 591.2 L881.5 585.0 L881.2 580.0 L877.5 576.2 L873.8 571.9 L876.2 572.2 L880.0 574.4 L885.0 574.0 L890.0 573.5 L893.8 574.8 L896.2 576.9 L898.8 581.2 L901.2 585.6 L902.8 588.1 L902.2 590.6 L897.5 591.5 L893.1 592.8 L890.0 596.2 L887.5 599.4 L888.1 602.5 L892.5 605.2 L894.4 609.4 L896.2 612.5 L900.0 613.8 L905.0 612.5 L910.0 610.6 L911.5 608.1 L911.9 603.1 L913.1 596.9 L916.9 595.0 L921.2 594.0 L920.6 591.2 L920.0 589.8 L923.8 590.0 L928.8 586.9 L933.1 583.1 L937.5 579.8 L941.9 578.1 L946.2 575.6 L948.8 574.8 L950.0 578.8 L952.5 578.5 L954.8 576.2 L953.5 573.5 L951.2 572.5 L954.4 570.0 L958.8 566.9 L963.8 564.4 L970.0 563.5"/>
<path class="c" d="M866.2 614.5 L867.5 614.0 L868.5 615.2 L867.5 616.2 L866.5 615.8Z"/>
<path class="c" d="M969.8 564.0 L965.6 565.2 L963.8 566.2 L965.0 567.5 L963.5 572.5 L964.8 576.2 L963.8 578.1 L959.4 579.4 L959.0 581.0 L964.4 581.9 L969.4 580.6 L971.5 583.1 L973.1 582.5 L973.1 579.4 L975.0 576.2 L977.5 574.0 L981.9 572.5 L987.5 572.8 L991.9 574.4 L995.0 572.5 L998.8 569.0 L1001.2 566.5 L1005.0 564.4 L1008.1 563.5 L1009.4 566.2 L1011.5 569.8 L1009.0 572.5 L1008.5 576.2 L1010.6 578.1 L1013.8 579.4 L1015.6 577.5 L1016.0 573.1 L1016.9 571.2 L1020.6 570.0 L1023.1 567.5 L1024.8 563.8 L1024.4 560.6 L1022.5 560.0 L1021.0 555.0 L1019.4 550.6 L1018.5 548.1 L1020.0 546.9 L1021.9 547.5 L1023.8 544.4 L1025.6 543.1 L1030.0 544.4 L1035.0 545.6 L1040.0 546.0 L1043.8 547.0"/>
<path class="c" d="M922.5 551.2 L925.0 551.5 L928.8 554.4 L932.5 556.9 L933.8 560.0 L933.1 562.8 L931.9 561.2 L930.0 563.1 L928.1 566.2 L924.4 568.8 L920.0 570.2 L917.5 568.1 L916.2 563.8 L916.2 558.8 L917.5 555.0 L920.0 552.5Z"/>
<path class="c" d="M952.5 480.0 L951.2 482.5 L948.8 483.1 L946.2 482.2 L944.4 484.4 L943.1 488.8 L943.1 493.8 L944.4 498.1 L946.9 501.0 L950.0 500.0 L951.9 499.4 L953.8 500.2 L956.9 500.0 L960.0 499.4 L959.4 503.1 L962.5 505.0 L964.4 508.1 L966.5 510.0 L963.1 511.5 L961.9 513.8 L961.9 516.2 L960.2 517.2 L965.0 519.0 L968.8 520.6 L970.6 522.2 L971.9 521.2 L973.1 522.5 L977.5 522.2 L979.4 521.9 L980.6 523.5 L983.8 523.1 L985.2 521.5 L986.9 523.1 L986.0 524.8 L984.8 523.1 L988.1 523.1 L990.6 523.8 L992.8 524.4 L995.0 522.2 L996.5 520.6 L994.4 518.5 L991.2 516.2 L988.1 512.8 L985.0 508.1 L982.5 503.1 L980.0 496.9 L978.1 491.2 L976.2 488.8 L977.2 485.0 L978.5 480.0"/>
<path class="c" d="M950.0 505.0 L951.9 503.5 L955.0 503.1 L956.9 505.6 L958.5 509.4 L957.5 512.8 L956.9 514.0 L955.6 511.2 L953.8 508.1 L951.9 506.9Z"/>
<path class="c" d="M1008.1 527.5 L1010.6 530.0 L1013.1 533.5 L1016.2 536.2 L1019.4 538.8 L1020.6 541.2 L1020.6 545.0 L1018.8 546.9 L1016.9 545.0 L1016.2 546.9 L1013.8 546.9 L1012.5 543.1 L1009.4 541.9 L1006.9 541.2 L1005.0 537.5 L1003.5 533.1 L1005.6 530.0Z"/>
<path class="c" d="M1043.7 353.0 L1038.0 353.0 L1033.8 351.8 L1029.7 351.0 L1026.9 352.6 L1025.6 356.8 L1023.9 359.2 L1021.0 357.9 L1018.2 358.9 L1016.5 362.2 L1012.4 364.2 L1007.4 366.7 L1003.3 370.5 L1000.0 374.1 L998.9 378.2 L996.2 381.5 L995.9 384.3 L992.6 383.2 L990.1 384.8 L988.5 388.9 L986.0 392.2 L983.5 390.6 L981.4 390.6 L980.7 393.6 L982.7 395.5 L986.0 395.5 L986.8 397.2 L983.5 401.3 L980.7 405.4 L979.1 409.6 L983.5 412.0 L982.4 413.4 L976.9 414.5 L975.3 418.6 L972.8 424.4 L970.3 429.4 L966.2 432.2 L963.2 435.5 L965.4 440.9 L967.0 445.9 L968.7 448.0 L963.2 450.0 L959.6 451.3 L958.8 454.9 L959.3 460.7 L955.5 462.4 L953.0 464.8 L955.5 468.5 L955.0 473.1 L953.0 478.0 L952.5 480.0"/>
<path class="c" d="M1043.7 376.6 L1038.0 379.4 L1033.8 382.3 L1028.9 385.6 L1025.6 389.8 L1022.3 393.9 L1019.0 396.4 L1021.0 398.8 L1019.8 401.8 L1017.7 403.8 L1015.7 405.4 L1014.9 407.9 L1012.4 408.4 L1010.4 406.3 L1009.1 410.4 L1006.6 413.4 L1004.1 412.9 L1005.5 417.0 L1005.0 421.9 L1001.7 425.2 L997.5 428.2 L996.7 431.8 L997.5 435.5 L993.9 434.3 L995.9 438.4 L993.4 442.6 L990.9 447.5 L986.8 449.6 L982.7 449.2 L977.7 448.0 L972.8 445.0 L969.5 445.9 L968.7 448.0"/>
<path class="c" d="M972.8 445.0 L976.9 447.5 L981.9 449.2 L986.3 452.0 L985.2 456.6 L983.5 463.2 L980.2 465.7 L978.1 470.6 L976.9 475.6 L978.1 480.5"/>
<path class="c" d="M820.0 625.0 L815.0 624.0 L810.0 623.5 L806.2 622.2 L803.1 620.0 L800.6 618.5 L798.8 619.4 L797.5 616.9 L795.0 616.2 L792.8 615.2 L790.0 614.4 L787.5 613.1 L785.0 610.6 L784.4 607.5 L781.2 606.9 L776.2 606.0 L779.4 608.1 L780.6 611.9 L783.1 614.4 L785.6 616.9 L786.9 620.0 L790.0 621.9 L788.8 623.8 L791.9 625.0 L795.6 627.5 L798.8 630.6 L800.6 633.8 L800.2 638.1 L799.0 641.9 L797.2 644.0 L798.8 646.9 L800.2 650.6 L801.0 654.4 L801.9 657.5 L801.2 660.6 L802.5 663.1 L805.0 664.8 L808.1 664.4 L811.2 666.9 L813.1 670.0 L814.4 671.9 L818.8 673.5 L823.1 675.6 L825.6 673.8 L828.5 672.2 L828.1 668.8 L827.5 665.0 L825.0 663.8 L821.9 664.4 L819.4 661.9 L817.5 658.1 L815.6 655.0 L816.9 651.9 L818.1 648.1 L820.6 647.5"/>
<path class="c" d="M807.2 648.5 L809.0 647.8 L810.0 649.4 L809.4 651.5 L807.8 650.6Z"/>
<path class="b" d="M640.0 599.3 L640.4 600.0 L641.7 602.9 L643.3 606.2 L643.3 608.3 L640.8 612.5 L637.9 616.7 L634.6 621.2 L635.4 624.2 L633.3 626.7 L630.0 628.2 L626.8 628.5 L627.5 632.5 L627.9 635.8 L627.3 638.3"/>
<path class="c" d="M657.5 555.0 L657.7 558.8 L656.7 560.8 L654.2 560.4 L653.3 562.9 L652.9 565.8 L651.7 568.3 L649.6 570.4 L647.1 571.2 L645.0 572.1 L644.2 572.9 L643.3 575.0 L644.6 576.8 L648.3 576.5 L652.1 576.8 L648.3 579.2 L646.7 579.6 L644.6 578.5 L642.1 579.2 L640.8 580.8 L641.2 583.8 L642.5 585.8 L641.7 587.9 L642.1 589.6 L640.4 586.7 L640.0 583.8 L639.6 582.1 L636.7 583.3 L634.2 585.4 L633.3 587.1 L635.4 587.9 L636.2 588.8 L634.2 588.3 L631.7 588.3 L630.0 590.4 L629.2 592.5 L629.6 594.6 L631.7 594.2 L633.3 592.9 L632.9 595.8 L635.0 597.5 L636.7 598.3 L635.8 601.2 L635.4 599.6 L633.3 598.3 L630.8 597.5 L628.8 599.2 L627.5 601.2 L626.2 603.3 L628.3 603.8 L631.7 604.2 L634.6 604.8 L631.7 605.4 L628.3 605.8 L625.8 606.7 L623.3 607.5 L622.1 609.6 L620.4 611.0 L619.6 612.3 L621.2 613.3 L621.5 614.3 L618.8 615.0 L616.2 617.1 L615.0 620.0 L614.6 622.9 L615.0 625.8 L616.7 626.7 L619.2 626.2 L622.1 624.6 L620.8 626.2 L618.8 627.5 L615.8 627.7 L613.3 628.5 L612.1 630.4 L614.2 631.2 L612.5 632.5 L610.0 633.3 L608.8 632.1 L609.2 629.6 L610.0 626.7 L609.3 629.6 L610.8 633.8 L610.0 636.2 L608.8 638.3"/>
<path class="c" d="M648.3 555.0 L648.8 557.5 L648.3 560.0 L646.7 561.2 L648.3 562.9 L649.6 563.3 L650.8 561.2 L652.1 559.6 L654.2 560.4"/>
<path class="c" d="M644.2 572.9 L644.6 570.8 L643.8 568.3 L642.1 566.7 L640.8 567.5 L640.4 570.0 L638.8 571.7 L637.5 574.2 L638.3 572.9 L639.2 570.4 L638.8 567.5 L637.9 564.6 L638.8 562.5 L640.0 560.0 L640.7 557.5 L639.6 556.2 L637.9 557.9 L636.2 560.8 L635.0 563.3 L635.4 565.8 L635.0 568.8 L634.6 571.7 L633.3 574.6 L631.2 576.8 L628.3 577.3 L626.2 578.3 L625.0 580.0 L623.8 581.7 L621.7 581.0 L619.2 580.8 L617.5 582.5 L615.4 585.0 L613.3 587.1 L612.5 591.2 L614.6 589.2 L617.5 586.2 L620.0 585.4 L622.1 583.8 L623.8 582.9 L625.8 583.3 L627.9 582.1 L630.0 580.4 L632.5 579.6 L633.3 578.8 L634.6 579.6 L636.7 578.8 L638.8 577.5 L640.0 575.4 L641.7 574.0 L643.3 572.9 L644.2 572.9"/>
<path class="c" d="M631.7 563.8 L632.9 565.4 L633.8 567.5 L634.6 570.0 L634.0 572.7 L632.1 573.5 L630.0 572.9 L628.3 572.3 L626.7 572.7 L625.4 571.2 L626.2 569.2 L627.5 568.2 L629.2 568.3 L630.0 566.2 L631.2 565.7Z"/>
<path class="c" d="M660.4 555.0 L661.7 556.2 L664.2 556.2 L664.6 555.0"/>
<path class="c" d="M608.8 638.3 L606.8 642.5 L606.7 645.4 L608.8 646.7 L610.8 646.2 L613.3 645.0 L611.2 648.3 L608.8 650.0 L606.7 648.3 L604.2 650.0 L601.7 651.7 L599.2 652.9 L597.1 652.1 L594.6 654.2 L597.1 655.0 L599.2 654.6 L600.0 657.1 L602.1 655.8 L600.8 657.5 L598.3 658.8 L595.8 660.8 L592.5 663.8 L590.4 667.1 L588.3 669.6 L587.1 672.5 L585.0 675.0 L584.2 677.1 L586.2 677.5 L587.1 680.0 L588.3 683.3 L590.0 682.1 L592.5 682.5 L594.6 682.3 L594.6 679.6 L592.5 679.2 L590.0 680.4 L593.3 678.3 L596.2 676.2 L597.9 673.3 L596.2 672.9 L598.3 670.8 L600.4 671.2 L599.2 673.3 L600.0 675.0 L597.9 676.7 L595.0 677.9"/>
<path class="c" d="M611.7 630.0 L610.0 630.8 L609.2 632.5 L611.7 632.9 L614.2 631.7 L611.7 633.8 L610.4 635.8 L608.8 638.3"/>
<path class="c" d="M584.2 677.1 L582.1 679.2 L580.8 681.7 L580.4 680.0 L578.3 678.3 L577.1 675.4 L573.8 677.5 L575.8 678.3 L577.1 678.8 L574.6 680.4 L574.2 682.1 L576.2 682.9 L576.7 684.6 L574.6 685.4 L572.5 686.2 L572.1 688.3 L573.8 690.4 L576.2 693.3 L572.9 690.4 L571.2 688.8 L568.3 688.3 L566.2 689.6 L562.9 691.2 L561.2 693.3 L560.4 695.8 L563.3 695.0 L567.1 695.8 L571.7 695.4 L567.5 696.7 L568.8 698.8 L567.1 699.3 L564.2 698.3 L560.8 697.1 L556.7 697.9 L555.0 700.4 L557.5 701.2 L560.0 700.8 L557.1 702.5 L554.6 702.9 L552.5 701.7 L550.0 703.3 L548.8 705.8 L546.2 706.7 L546.2 709.2 L548.3 710.0 L553.3 710.8 L560.0 711.2 L555.0 712.1 L550.0 712.1 L545.0 711.2"/>
<path class="c" d="M603.2 638.3 L603.8 637.3 L605.2 637.3 L605.8 638.3 L605.2 639.5 L603.8 639.5Z"/>
<path class="c" d="M569.3 683.3 L570.4 682.1 L572.1 682.1 L572.7 683.3 L571.7 684.6 L570.0 684.6Z"/>
<path class="b" d="M627.3 638.3 L627.1 645.0 L625.4 649.2 L623.3 652.5 L621.2 656.7 L619.6 660.0 L621.2 661.7 L623.3 662.9 L623.8 666.7 L623.3 670.0 L621.7 671.5 L618.8 670.4 L615.8 669.8 L612.9 670.8 L610.8 672.5 L608.8 676.2 L606.7 679.6 L607.1 682.1 L605.4 685.4 L606.2 688.3 L607.3 690.8 L606.2 693.3 L606.5 698.3 L607.5 701.7 L608.3 704.6 L607.9 708.3 L606.8 713.0"/>
<path class="c" d="M560.0 700.8 L556.7 702.5 L555.0 701.2 L551.7 701.7 L549.6 703.8 L548.8 705.8 L546.2 706.7 L546.2 709.6 L547.5 710.4 L550.8 710.8 L553.8 712.1 L557.1 712.5 L560.0 711.7 L556.7 712.9 L553.8 713.2 L550.8 712.1 L547.5 711.7 L544.8 711.7 L544.2 714.2 L545.4 716.2 L547.1 717.9 L547.9 719.0 L545.4 719.6 L545.4 722.5 L543.3 725.0 L545.4 725.8 L549.2 725.0 L553.3 724.6 L556.7 725.0 L558.8 724.6 L558.8 722.5 L560.0 724.2 L562.1 725.0 L562.9 727.9 L562.9 725.0 L565.0 724.2 L565.4 721.7 L566.2 720.0 L565.4 722.9 L567.5 723.8 L565.0 725.0 L562.1 725.4 L559.2 725.4 L556.7 725.8 L553.3 725.4 L550.0 726.0 L546.7 726.5 L545.4 728.3 L545.8 731.7 L547.1 734.2 L550.4 732.9 L547.9 735.4 L545.4 737.1 L544.8 739.2 L545.8 741.2 L548.8 741.2 L551.7 742.5 L553.3 740.8 L555.0 738.8 L557.5 737.1 L562.5 736.0 L558.8 737.5 L559.6 739.2 L558.8 742.1 L557.9 739.2 L556.7 738.8 L555.0 740.8 L554.2 742.9 L552.5 744.6 L550.8 743.3 L547.9 743.3 L547.1 745.4 L546.2 747.9 L546.7 750.4 L549.6 748.3 L552.1 747.9 L555.4 747.7 L552.5 749.2 L551.2 750.4 L548.8 750.0 L547.5 751.7 L546.7 755.0 L546.2 757.9 L547.9 759.2 L549.6 757.9 L550.8 756.2 L553.3 755.4 L555.4 753.3 L557.5 752.3 L555.0 754.6 L553.3 756.7 L553.8 759.6 L553.3 762.1 L555.0 762.9 L557.1 761.7 L555.0 763.5 L552.9 762.5 L550.8 761.2 L549.6 763.3 L549.3 765.8 L550.8 768.8 L553.3 770.8 L555.4 772.9 L557.5 773.8 L559.6 773.8 L560.0 775.4 L558.8 776.2 L562.1 777.3 L565.8 777.5 L569.2 776.7 L572.5 775.4 L575.4 772.9 L577.5 770.0 L579.6 767.9 L582.1 765.8 L582.5 763.8 L584.6 762.1 L586.7 761.7 L584.6 759.6 L587.5 762.1 L590.0 761.2 L591.2 758.3 L592.5 755.4 L591.7 753.3 L592.9 751.7 L592.9 748.8 L593.8 751.7 L594.0 755.0 L595.4 757.9 L597.5 759.2 L599.6 759.6 L598.3 760.4 L598.8 763.3 L599.2 767.5 L598.8 771.2 L600.4 772.5 L600.8 775.8 L602.5 778.3 L603.3 781.7 L603.8 783.3"/>
<path class="b" d="M606.8 713.0 L606.2 714.6 L607.5 715.8 L609.6 717.5 L612.1 719.6 L613.3 721.7 L612.1 724.2 L611.2 726.5 L609.2 726.5 L607.5 727.5 L608.3 729.2 L609.6 732.9 L610.7 736.7 L610.2 740.0 L609.6 742.9 L607.5 745.8 L605.0 746.7 L603.8 750.0 L602.5 752.1 L603.3 754.2 L603.8 758.3 L602.9 762.1 L601.7 763.8 L600.8 761.7 L599.6 759.6"/>
<path class="c" d="M664.4 750.0 L665.0 745.6 L663.1 742.5 L660.6 739.4 L658.1 736.9 L655.6 734.4 L653.1 735.0 L650.6 732.5 L650.0 727.5 L649.4 721.9 L649.4 716.2 L650.0 714.4 L652.2 714.8 L651.9 711.2 L652.8 706.2 L653.8 705.0 L651.9 703.1 L651.2 700.6 L653.8 701.0 L656.2 699.4 L656.9 696.2 L655.6 693.5 L658.8 694.4 L660.6 693.1 L660.0 690.0 L661.9 687.2 L664.4 686.2 L666.2 685.6 L668.1 682.5 L670.0 681.9 L671.9 680.6 L674.4 678.8 L678.1 676.2 L680.6 674.4 L681.9 670.6 L683.8 667.5 L686.2 664.4 L686.9 661.9 L685.6 658.8 L683.8 655.0 L685.0 652.5 L686.9 649.4 L687.5 646.9 L686.2 645.0 L688.8 643.1 L690.6 640.6 L693.1 638.1 L693.8 634.4 L695.6 635.0 L697.5 633.8 L700.0 636.5 L703.1 635.6 L706.9 635.0 L710.0 635.0 L713.1 634.0 L713.5 636.9 L716.9 638.8 L719.4 641.2 L719.8 646.2 L719.0 650.0 L720.0 651.9 L719.4 654.4 L716.2 654.0 L713.5 655.6 L711.2 660.0 L708.8 664.4 L705.6 669.4 L702.5 673.1 L698.8 676.5 L695.6 679.4 L693.8 683.1 L693.1 685.6 L691.2 686.2 L687.8 686.5 L684.4 686.0 L685.0 687.0 L687.5 687.5 L686.9 690.6 L685.0 693.1 L683.5 696.9 L683.8 701.2 L685.2 703.8 L684.8 708.8 L686.2 711.2 L687.8 715.6 L687.2 720.0 L686.9 725.0 L685.6 730.0 L686.0 733.8 L684.8 734.8 L685.6 736.0 L688.8 735.6 L691.2 736.9 L695.0 738.1 L698.1 741.2 L700.0 743.1 L701.9 745.6 L705.0 744.8 L710.0 743.8 L715.0 741.9 L720.0 739.8 L723.1 738.1 L725.6 736.2 L726.2 737.5 L729.4 736.9 L730.0 733.8 L730.6 736.2 L733.8 735.6 L735.6 735.2 L737.5 736.2 L740.0 735.6 L742.5 735.0 L745.0 733.8 L746.9 733.1 L748.1 735.0 L746.9 736.9 L748.8 738.8 L751.2 741.2 L755.0 741.9 L757.5 741.2 L759.4 743.8 L761.0 746.0 L757.5 745.0 L753.1 744.4 L750.6 746.9 L747.5 748.1 L744.4 748.8 L742.5 750.0"/>
<path class="b" d="M756.9 625.0 L758.8 628.8 L760.0 633.1 L760.6 637.5 L757.5 638.5 L756.9 642.5 L756.2 646.9 L758.5 648.1 L757.2 650.6 L756.0 653.1 L757.5 655.6 L761.0 656.9 L761.2 659.4 L759.4 661.9 L761.2 665.0 L764.4 667.5 L764.8 671.2 L762.5 674.4 L759.4 676.9 L761.2 680.0 L765.0 683.1 L768.8 686.2 L771.2 689.4 L773.1 692.5 L771.9 696.9 L769.4 701.2 L765.6 705.6 L762.5 709.4 L758.8 715.0 L755.0 720.0 L750.6 725.0 L746.2 729.4 L742.5 733.1 L740.0 735.6"/>
<path class="b" d="M708.1 630.0 L708.8 631.2 L709.8 635.0"/>
<path class="c" d="M713.1 651.0 L715.0 650.0 L716.5 651.0 L715.0 652.0Z"/>
<path class="c" d="M665.0 745.6 L665.6 748.1 L663.8 750.6 L661.2 753.1 L658.8 755.0 L656.2 755.6 L660.0 756.0 L661.9 752.5 L661.2 756.9 L659.8 760.6 L660.6 758.8 L658.8 760.0 L655.0 762.2 L650.6 765.0 L646.9 767.8 L641.2 767.2 L645.6 768.5 L647.5 770.0 L646.0 771.9 L645.6 777.5 L644.8 783.1 L645.2 786.9 L643.8 791.2 L643.1 795.6 L641.2 800.0 L640.0 803.8 L638.8 806.9 L635.6 806.2 L631.9 806.5 L628.8 806.9 L626.2 808.8 L624.8 811.2 L625.0 815.0 L623.8 818.1 L618.8 818.8 L614.4 819.0 L613.5 815.6 L613.1 811.9 L611.2 808.8 L610.6 805.6 L612.5 805.0 L610.6 804.4 L611.2 801.9 L613.1 801.2 L611.9 798.8 L609.4 795.6 L606.9 791.2 L605.0 786.2 L603.8 783.2"/>
<path class="c" d="M649.4 788.1 L648.1 792.5 L646.2 797.5 L644.4 802.5 L643.1 805.6 L642.5 802.5 L644.0 797.5 L646.0 792.5 L648.1 788.8Z"/>
<path class="c" d="M668.1 778.5 L665.6 780.6 L664.0 783.1 L664.8 786.9 L663.1 788.8 L661.2 791.9 L658.5 795.0 L657.5 791.2 L657.2 786.9 L658.5 783.1 L660.6 780.6 L663.8 779.8 L666.2 778.1Z"/>
<path class="c" d="M626.9 839.8 L631.2 838.5 L636.2 836.9 L640.0 835.6 L642.5 833.1 L645.6 831.2 L649.4 829.4 L653.1 827.5 L656.9 826.5 L659.8 826.2 L661.9 828.1 L663.8 829.4 L660.6 827.5 L661.2 831.2 L663.1 833.5 L666.2 834.0 L669.4 833.1 L671.9 831.2 L673.1 828.1 L673.8 825.6 L676.2 825.0 L680.0 823.5 L681.9 820.0 L683.5 816.2 L683.8 813.1 L682.8 808.1 L682.5 802.5 L683.1 796.9 L685.0 792.5 L686.2 788.1 L688.1 785.0 L691.2 783.8 L695.6 782.5 L697.5 784.4 L700.0 787.5 L701.9 790.6 L703.8 793.1 L706.2 794.4 L709.4 793.1 L711.2 790.0 L711.5 785.0 L710.6 780.0 L711.9 776.2 L712.5 772.2 L710.6 773.1 L707.5 772.5 L705.0 770.0 L704.8 766.2 L703.5 762.5 L703.8 758.8 L706.2 756.2 L710.0 754.4 L712.5 753.1 L717.5 752.2 L721.9 751.0 L726.2 751.9 L731.2 753.1 L737.5 754.0 L743.1 754.8 L742.5 751.2 L742.5 750.0"/>
<path class="c" d="M683.5 808.1 L684.4 815.0 L685.0 820.0 L687.5 821.9 L692.5 823.1 L696.9 823.5 L698.1 826.2 L696.9 830.0 L697.5 834.0"/>
<path class="b" d="M670.6 832.8 L675.0 832.8 L697.5 834.0 L701.2 835.6 L703.8 837.5 L704.4 840.6 L705.6 846.2 L707.2 852.5 L707.8 856.9 L704.4 859.4 L701.2 861.9 L703.1 865.0"/>
<path class="b" d="M704.4 840.6 L708.8 840.0 L712.5 840.0 L716.2 838.1 L720.0 836.2 L721.9 835.0 L723.1 830.0 L725.0 825.6 L728.8 823.1 L731.9 821.2 L731.2 818.8 L730.0 815.0"/>
<path class="b" d="M721.2 835.2 L722.5 834.8 L723.5 836.0 L722.5 837.2 L721.2 836.5Z"/>
<path class="b" d="M682.8 808.1 L686.2 805.0 L691.2 803.1 L697.5 803.1 L703.8 804.0 L710.0 805.0 L715.0 803.8 L716.9 805.6 L721.9 808.1 L725.6 811.2 L730.0 815.0 L734.4 812.5 L738.8 811.9 L741.2 808.8 L743.8 807.5 L744.4 803.8 L742.5 798.8 L740.0 793.8 L741.2 789.4 L738.8 785.6 L737.5 784.4"/>
<path class="b" d="M711.9 779.8 L715.0 778.1 L718.8 776.9 L721.9 778.8 L725.0 781.2 L728.8 784.8 L732.5 784.4 L737.5 784.4 L740.0 780.6 L741.9 777.5 L739.8 773.8"/>
<path class="c" d="M733.8 763.8 L735.6 762.2 L739.4 761.5 L740.6 765.0 L741.0 769.4 L739.8 773.8 L738.1 771.9 L736.2 768.1Z"/>
<path class="c" d="M740.0 776.2 L742.5 775.6 L743.8 777.5 L742.8 779.8 L740.6 779.8Z"/>
<path class="b" d="M740.6 762.5 L741.9 758.8 L743.1 754.8"/>
<path class="c" d="M585.1 845.0 L586.5 845.4 L582.5 841.2 L579.8 841.0 L576.9 841.5 L575.6 843.8 L576.0 846.9 L573.1 846.0 L570.6 843.8 L566.9 843.5 L564.4 844.4 L563.1 846.9 L560.0 845.6 L556.2 846.5 L551.9 846.9 L548.1 847.8 L545.6 849.4 L543.8 851.9 L543.1 853.8 L541.9 857.5 L541.2 861.2 L540.0 864.4"/>
<path class="b" d="M563.1 846.9 L564.4 850.0 L563.8 853.8 L562.5 857.5 L560.0 858.8 L560.6 861.9 L562.5 863.1 L560.0 866.2 L558.8 869.4 L555.0 870.0 L553.5 871.9 L555.0 875.0 L555.6 878.8 L553.8 881.2 L552.5 883.1 L555.0 886.2 L556.9 890.0"/>
<path class="b" d="M540.0 874.4 L543.8 875.0 L546.2 876.9 L549.4 878.8 L552.5 881.2"/>
<path class="b" d="M551.5 882.5 L552.8 881.9 L553.8 883.1 L552.8 884.4 L551.5 883.8Z"/>
<path class="b" d="M609.4 890.0 L613.8 887.5 L618.8 885.0 L623.1 882.5 L625.6 880.6 L627.5 883.1 L630.6 881.9 L632.5 881.2 L635.0 883.8 L640.0 885.6 L643.1 886.9 L642.8 890.0"/>
<path class="b" d="M646.9 888.8 L650.0 890.0"/>
<path class="b" d="M622.5 840.0 L625.0 843.8 L626.2 847.5 L625.6 851.9 L623.5 855.0 L626.2 858.1 L628.1 862.5 L628.8 867.5 L629.4 872.5 L631.2 876.9 L631.9 881.2 L630.0 882.5"/>
<path class="c" d="M476.2 767.2 L476.0 771.2 L473.8 773.8 L470.6 776.2 L468.1 778.8 L468.8 781.9 L467.5 784.4 L471.2 783.1 L476.2 782.5 L481.2 782.5 L485.6 782.2 L487.5 785.6 L486.2 789.4 L484.4 793.8 L482.5 797.5 L480.0 800.6 L476.9 802.5 L474.4 803.5 L478.1 803.1 L479.4 805.0 L477.5 807.2 L474.4 808.1 L470.6 808.5 L473.8 809.8 L477.5 809.0 L481.2 809.4 L483.8 811.2 L486.2 813.8 L488.5 816.9 L489.4 820.6 L490.2 824.4 L491.9 828.1 L494.4 830.0 L496.9 831.9 L499.4 835.0 L501.2 837.5 L502.5 841.2 L502.8 845.0 L500.0 843.8 L496.9 843.5 L501.2 845.0 L503.8 846.9 L505.2 850.0 L505.0 853.1 L503.1 855.0 L506.2 854.4 L510.0 853.5 L513.1 854.4 L516.2 856.9 L517.5 860.6 L516.9 865.0 L515.0 868.1 L513.8 870.0"/>
<path class="c" d="M476.2 767.2 L471.9 768.1 L467.5 768.8 L463.8 769.4 L460.0 768.1 L459.0 770.0 L459.4 773.1 L456.9 774.4 L456.2 777.5 L458.1 779.4 L455.0 780.0 L453.1 782.5 L453.8 785.6 L453.1 788.1 L455.0 790.0 L454.4 793.1 L452.5 795.0 L451.2 797.5 L453.8 799.4 L456.0 800.0 L457.8 797.5 L456.9 801.2 L455.6 805.0 L455.0 808.8 L454.4 813.1 L453.8 817.5 L453.5 819.4 L455.6 818.8 L457.5 816.9 L458.5 813.8 L457.2 811.2 L458.1 808.8 L460.0 807.5 L461.2 810.0 L462.5 810.6 L461.0 813.1 L461.2 816.2 L462.5 818.1 L461.2 820.6 L459.8 823.8 L458.8 826.2 L460.0 828.5 L463.8 827.8 L467.5 827.2 L470.6 826.0 L473.8 825.0 L476.5 825.6 L473.8 826.9 L472.2 830.0 L473.1 833.1 L475.0 835.6 L478.1 837.5 L477.8 840.6 L476.5 843.8 L476.9 846.9 L478.5 849.4 L475.6 848.5 L471.2 849.4 L467.5 849.8 L465.6 848.5 L463.8 848.1 L463.1 850.0 L465.0 851.9 L466.9 851.2 L465.2 853.8 L463.1 855.0 L462.5 856.2 L466.2 854.8 L468.1 856.9 L468.5 860.6 L466.2 863.8 L462.5 866.2 L458.8 868.1 L456.9 870.0"/>
<path class="c" d="M449.4 770.0 L450.0 772.2 L448.1 775.6 L445.6 778.8 L443.1 781.0 L441.9 778.1 L441.5 775.0 L443.8 773.1 L446.9 771.0Z"/>
<path class="c" d="M438.5 784.4 L440.0 783.1 L441.5 784.4 L440.2 786.0 L438.8 785.6Z"/>
<path class="c" d="M438.5 788.8 L440.0 788.1 L440.6 790.6 L439.4 792.2 L438.5 791.0Z"/>
<path class="c" d="M437.5 793.8 L438.8 793.5 L438.8 794.5 L437.8 794.6Z"/>
<path class="c" d="M444.4 786.9 L446.9 784.4 L449.4 783.5 L450.0 786.2 L449.4 789.4 L451.2 790.6 L453.1 791.9 L451.9 793.1 L449.4 791.9 L447.5 790.0 L445.6 788.8Z"/>
<path class="c" d="M448.8 800.0 L450.6 798.5 L453.1 799.4 L453.8 801.9 L451.9 804.0 L449.4 804.4 L448.5 802.2Z"/>
<path class="c" d="M447.5 811.9 L449.4 810.0 L451.9 808.1 L453.8 806.9 L453.1 809.4 L451.2 811.9 L450.0 814.4 L448.1 814.8 L446.9 813.1Z"/>
<path class="c" d="M447.5 793.5 L448.8 793.2 L448.8 794.2 L447.8 794.4Z"/>
<path class="c" d="M445.0 799.4 L446.2 799.1 L446.2 800.1 L445.2 800.2Z"/>
<path class="c" d="M456.5 813.8 L458.1 812.5 L459.0 815.0 L457.8 817.8 L456.2 816.9Z"/>
<path class="c" d="M473.8 759.8 L476.2 759.0 L478.5 760.6 L479.0 763.5 L477.2 765.0 L475.0 765.2 L473.8 762.5Z"/>
<path class="c" d="M476.9 756.9 L479.4 757.8 L481.9 756.5"/>
<path class="c" d="M461.9 836.9 L463.1 834.4 L465.0 833.1 L465.6 835.0 L464.0 837.8 L462.2 838.8Z"/>
<path class="c" d="M463.5 848.8 L465.0 847.5 L467.2 848.1 L466.9 850.6 L464.8 851.2Z"/>
<path class="c" d="M490.8 746.2 L491.8 746.0 L491.9 746.9 L491.0 747.0Z"/>
<path class="c" d="M430.6 823.1 L432.5 821.2 L436.2 820.6 L438.1 820.0 L440.0 819.0 L442.5 820.6 L446.9 820.4 L450.0 821.0 L451.5 823.1 L452.5 826.2 L455.0 828.8 L455.0 831.9 L453.1 835.0 L451.2 838.1 L448.1 838.8 L448.8 842.5 L450.0 847.5 L450.6 852.5 L450.0 857.5 L448.1 862.5 L445.0 864.4 L442.5 865.0 L438.8 865.6 L435.0 866.9 L431.2 869.4 L430.0 870.0"/>
<path class="c" d="M430.6 823.1 L429.4 826.2 L427.5 828.5 L430.6 829.4 L433.1 830.0 L431.9 831.9 L428.8 833.8 L425.0 834.8 L420.0 834.8 L416.2 835.2 L415.6 837.5 L414.4 839.4 L418.1 839.8 L420.0 841.9 L416.9 843.8 L415.6 846.5 L418.8 848.5 L422.5 849.4 L425.6 851.0 L423.1 853.1 L421.2 856.2 L418.8 858.8 L417.5 859.8 L421.9 859.0 L426.9 858.1 L423.1 860.0 L419.4 861.9 L415.6 864.4 L413.8 866.9 L415.6 868.1 L413.1 870.0"/>
<path class="b" d="M438.8 823.8 L437.5 827.5 L435.0 828.8 L432.8 831.0 L434.4 833.8 L436.9 836.9 L439.4 837.5 L441.2 834.8 L443.1 833.8 L444.4 836.9 L446.9 838.1 L448.8 838.5"/>
<path class="c" d="M438.1 820.0 L437.8 821.9 L439.4 823.5 L441.9 822.8 L442.5 820.6"/>
<path class="c" d="M513.8 870.0 L513.1 870.6 L510.0 871.2 L506.9 874.4 L510.0 875.6 L513.8 876.9 L513.1 879.4 L510.0 881.2 L506.2 883.1 L503.8 884.4 L500.0 884.0 L495.0 883.8 L493.1 883.1 L491.9 884.8 L490.0 884.4 L487.5 885.0 L485.0 884.8 L481.2 885.6 L477.5 885.0 L474.4 886.0 L472.5 888.1 L472.5 891.2"/>
<path class="c" d="M490.0 884.4 L491.5 883.1 L493.1 884.4 L491.9 886.0Z"/>
<path class="c" d="M456.9 870.0 L458.8 871.9 L461.9 871.2 L465.0 871.9 L468.1 873.1 L471.9 875.0 L475.0 874.8 L478.1 872.5 L481.9 871.0 L480.0 873.8 L476.9 876.9 L472.5 877.8 L468.1 878.8 L465.0 881.2 L462.5 885.0 L460.0 888.1 L458.1 891.2"/>
<path class="c" d="M430.0 870.0 L425.6 872.2 L421.9 874.0 L418.5 874.8 L417.8 872.8 L420.0 870.2 L417.2 871.5 L414.0 870.0 L413.1 870.0"/>
<path class="c" d="M540.0 864.4 L538.8 866.9 L536.9 870.0 L534.4 873.1 L531.2 875.6 L527.5 877.5 L523.8 879.4 L520.0 880.6 L516.9 882.5 L515.6 886.2 L515.2 891.2"/>
<path class="b" d="M536.9 876.2 L540.0 874.8"/>
<path class="b" d="M523.8 879.4 L525.0 882.5 L527.5 885.0 L530.6 885.6 L532.5 888.1 L535.0 891.2"/>
<path class="c" d="M439.0 707.1 L441.1 706.1 L441.4 704.1 L442.7 703.4 L444.7 704.4 L446.1 703.4 L446.8 702.7 L447.8 705.1 L446.1 706.1 L445.1 707.8 L443.7 708.8 L442.1 707.8 L440.4 708.4 L439.0 707.8Z"/>
<path class="c" d="M443.4 711.3 L445.7 712.9 L445.4 713.5 L443.2 711.8Z"/>
<path class="c" d="M442.9 716.3 L445.1 719.3 L444.6 719.7 L442.6 716.8Z"/>
<path class="c" d="M495.3 730.5 L496.0 731.9 L494.3 733.2 L493.5 735.6 L493.8 737.9 L493.1 740.6 L492.3 743.3 L491.5 744.8 L491.3 742.3 L489.6 741.5 L488.2 740.1 L490.2 739.4 L490.6 737.2 L489.3 736.2 L490.6 734.6 L492.3 734.2 L493.0 732.5 L494.3 731.2Z"/>
<path class="b" d="M743.8 807.5 L746.9 808.1 L748.8 810.0 L751.9 809.4 L754.4 810.6 L755.0 814.0 L758.1 811.9 L761.2 811.2 L764.4 813.1 L767.5 816.0 L767.2 820.0 L768.5 823.8 L766.5 826.9 L768.8 830.0 L770.6 834.4 L773.1 836.9 L775.6 838.5 L775.0 841.9 L779.4 842.5 L781.2 845.6 L783.1 848.1 L780.6 850.6 L777.5 852.5 L775.0 850.6 L771.9 850.6 L770.6 853.1 L772.5 856.2 L773.1 861.2 L774.4 865.6 L777.5 866.9 L779.4 863.8 L783.1 863.1 L787.5 862.5 L791.9 862.8 L793.8 865.6 L795.6 868.8 L797.5 870.6 L795.0 872.5 L795.6 877.5 L800.0 878.8 L803.1 878.5 L805.6 881.2 L806.2 886.2 L808.1 889.4 L810.6 888.1 L813.1 891.0"/>
<path class="b" d="M820.0 890.8 L822.5 888.8 L824.4 890.8"/>
<path class="b" d="M774.4 865.6 L770.0 866.0 L766.9 867.5 L764.8 871.2 L765.0 876.2 L763.8 877.2 L761.9 875.0 L758.1 875.0 L754.4 876.2 L751.9 872.5 L748.8 875.0 L745.0 873.1 L740.0 873.8 L736.2 873.1 L732.5 870.6 L727.5 869.4 L722.5 868.5 L716.9 868.5 L711.9 869.4 L708.8 872.8 L704.8 872.8"/>
<path class="b" d="M703.1 865.0 L704.8 866.2 L704.8 872.8 L705.6 877.5 L707.5 881.2 L709.4 884.4 L708.8 888.1 L705.6 891.0"/>
<path class="b" d="M1043.3 837.6 L1038.0 838.7 L1033.3 839.3 L1028.7 838.7 L1026.3 840.0 L1025.3 844.7 L1028.0 846.0 L1030.0 846.0 L1027.3 847.3 L1026.7 849.3 L1031.3 850.7 L1034.7 852.7 L1034.0 854.0 L1030.0 854.0 L1026.0 854.0 L1024.0 856.7 L1023.3 859.3 L1025.3 862.0 L1024.0 864.7 L1020.7 866.0 L1016.7 868.3 L1018.7 869.3 L1020.7 872.0 L1024.7 873.3 L1028.7 875.3 L1030.7 877.3 L1030.0 881.3 L1027.3 884.0 L1023.3 885.1 L1019.3 884.7 L1016.7 883.3 L1015.6 886.7 L1012.7 888.0 L1012.0 886.0 L1008.7 885.3 L1006.0 883.3 L1004.0 880.7 L1000.7 879.7 L997.3 880.0 L995.3 882.4 L992.7 880.7 L989.3 880.3 L986.0 881.1 L983.3 884.0 L980.7 886.4 L978.0 886.7 L975.3 884.7 L972.7 882.0 L970.0 881.1 L970.0 886.7 L968.9 887.3 L968.4 882.7 L966.0 880.0 L962.7 877.3 L960.0 874.7 L956.0 874.4 L952.7 874.0 L950.7 871.3 L948.0 871.7 L944.7 874.0 L942.7 874.7 L940.7 872.0 L938.0 871.3 L936.0 873.3 L933.3 876.7 L929.3 878.9 L926.0 880.7 L924.7 883.3 L922.0 885.3 L919.6 886.7 L919.6 891.3"/>
<path class="b" d="M908.4 890.9 L910.0 889.1 L912.0 890.9"/>
<path class="c" d="M593.5 782.4 L592.1 783.4 L589.8 784.4 L587.8 784.7 L586.1 786.7 L584.8 789.1 L583.4 790.7 L581.1 791.4 L578.4 791.4 L576.1 792.1 L574.4 793.7 L573.0 796.1 L573.4 797.8 L575.1 798.1 L577.4 797.8 L578.4 796.1 L579.1 794.1 L580.1 793.4 L581.8 793.5 L581.6 795.8 L581.4 798.1 L580.4 797.8 L579.1 797.4 L578.1 798.8 L577.4 800.8 L576.4 801.6 L575.1 800.4 L573.4 799.8 L572.4 800.1 L572.0 803.5 L571.7 806.8 L572.5 810.2 L572.4 812.8 L572.2 815.2 L573.7 816.2 L575.7 817.5 L576.7 818.9 L576.9 821.6 L576.4 823.9 L575.1 823.6 L573.7 824.9 L573.4 827.2 L575.1 828.9 L576.7 827.9 L577.7 829.6 L579.4 831.6 L578.1 832.9 L576.4 833.6 L578.4 835.0 L579.1 837.6 L578.7 839.6 L580.1 840.6 L582.1 841.3 L584.1 843.3 L585.1 845.0"/>
<path class="c" d="M575.1 845.0 L575.4 841.3 L577.7 840.6 L580.1 840.6"/>
<path class="c" d="M593.5 782.4 L592.5 783.7 L592.6 786.7 L592.3 790.1 L591.1 792.4 L590.5 794.4 L590.8 797.4 L590.5 799.8 L591.8 801.1 L593.8 801.3 L595.8 801.5 L596.5 803.1 L595.5 805.1 L593.5 806.1 L591.5 805.1 L590.8 806.8 L590.1 809.5 L589.1 811.2 L587.4 811.5 L588.1 812.8 L586.4 814.5 L584.8 816.9 L585.1 818.9 L584.8 820.9 L583.8 822.9 L582.8 824.2 L581.1 824.9 L578.4 825.2 L575.7 824.9 L573.7 825.9"/>
<path class="c" d="M582.8 824.2 L582.8 827.2 L585.1 826.9 L587.4 827.9 L588.5 829.6 L588.1 831.6 L587.4 832.3 L589.5 832.9 L591.5 833.3 L593.8 834.3 L596.2 833.6 L597.8 831.6 L599.2 832.6 L597.2 834.6 L596.5 837.0 L595.2 838.3 L596.2 839.3 L598.5 839.3 L600.2 839.6 L601.9 837.6 L604.2 836.6 L606.2 836.3 L608.2 834.3 L610.2 832.3 L612.6 832.6 L614.6 833.6 L615.6 835.3 L617.3 837.0 L619.3 837.3 L620.6 837.3 L622.0 838.6 L624.0 840.0 L626.0 841.0 L627.6 842.3 L627.0 844.3 L624.6 844.0 L622.3 842.3 L620.9 840.0 L620.3 838.3"/>
<path class="c" d="M615.6 830.6 L616.9 828.8 L618.6 829.9 L619.6 831.3 L619.3 832.9 L620.3 834.3 L618.6 835.0 L616.6 835.0 L615.4 833.3Z"/>
<path class="c" d="M587.1 816.5 L589.1 815.5 L591.5 815.4 L593.8 815.2 L594.5 817.5 L595.5 820.2 L596.5 822.6 L594.8 823.6 L592.5 823.6 L589.8 822.9 L588.1 821.6 L587.2 819.2Z"/>
<path class="c" d="M596.4 813.5 L598.5 813.2 L599.8 811.8 L600.5 810.2 L602.2 809.8 L602.9 811.5 L603.2 813.8 L604.5 812.8 L604.9 809.5 L606.5 807.8 L608.9 807.1 L609.8 808.8 L610.2 811.5 L610.9 814.2 L611.2 815.9 L609.6 815.5 L607.9 816.5 L607.2 817.9 L608.6 818.9 L608.9 820.5 L607.2 821.6 L605.9 822.2 L605.2 824.2 L604.5 826.9 L603.5 827.9 L602.5 824.9 L602.9 822.2 L601.5 821.2 L599.2 820.9 L598.5 818.9 L598.5 816.5 L597.5 814.9Z"/>
<path class="c" d="M597.5 825.6 L599.2 825.2 L601.5 826.9 L603.5 827.9 L603.2 829.6 L600.8 829.9 L598.5 828.9 L597.3 827.2Z"/>
<path class="c" d="M592.3 809.5 L593.5 809.4 L593.9 811.5 L593.5 812.8 L592.5 812.5Z"/>
<path class="c" d="M595.5 789.3 L597.2 788.2 L598.6 788.6 L597.2 790.1 L596.0 790.2Z"/>
<path class="c" d="M590.1 825.2 L592.5 825.9 L594.8 825.6 L594.5 827.9 L593.1 826.9 L590.8 826.6Z"/>
<path class="c" d="M628.3 820.5 L629.7 819.9 L631.3 821.2 L632.7 822.6 L632.3 823.9 L630.0 823.9 L628.5 822.9Z"/>
<path class="c" d="M552.2 848.8 L550.5 849.5 L549.2 851.0 L548.5 852.5 L548.8 854.5 L550.0 855.2 L551.2 855.8 L550.8 857.5 L552.0 858.2 L553.0 859.5 L552.8 861.5 L551.5 862.8 L550.0 864.0 L548.5 863.8 L546.8 863.2 L545.5 862.5 L545.5 860.5 L546.0 859.0 L547.5 857.8 L546.8 856.2 L546.5 854.8 L547.2 853.5 L546.0 854.2 L544.2 854.2 L543.2 853.8"/>
<path class="c" d="M546.8 863.2 L548.0 861.8 L549.8 860.5 L551.8 860.0"/>
<path class="c" d="M555.2 846.6 L556.9 846.2 L557.0 846.6 L555.4 847.0Z"/>
<path class="c" d="M559.2 845.1 L560.6 844.3 L560.9 844.7 L559.5 845.5Z"/>
<path class="c" d="M547.0 847.5 L550.0 846.9 L552.0 846.5 L552.8 847.2 L552.0 848.1"/>
<path class="c" d="M530.0 876.5 L531.5 876.8 L532.5 878.0 L534.0 877.5 L535.5 878.5 L537.2 877.8 L538.5 876.5"/>
<path class="c" d="M534.2 871.5 L535.5 872.0 L537.0 873.0 L538.0 874.5 L538.5 876.5"/>
<path class="c" d="M532.2 874.5 L534.0 875.0 L536.0 875.2 L535.0 876.0 L533.0 875.8Z"/>
<path class="c" d="M534.5 872.2 L533.0 873.5 L532.2 874.5"/>
<path class="c" d="M691.2 762.5 L694.2 761.8 L696.2 759.8 L698.5 761.2 L699.9 762.8 L699.5 764.5 L697.9 764.8 L696.5 766.5 L695.2 765.8 L694.5 763.8 L692.8 763.4Z"/>
<path class="c" d="M689.8 769.5 L692.2 769.5 L694.2 768.2 L697.5 767.9 L700.2 767.2 L701.9 766.9 L702.5 768.9 L701.9 770.5 L699.9 771.9 L697.5 773.9 L694.8 774.6 L692.8 774.9 L693.5 776.2 L692.2 778.2 L691.0 779.2 L691.5 777.2 L692.2 775.6 L690.5 774.2 L689.5 773.2 L690.5 771.5Z"/>
<path class="c" d="M700.2 767.5 L701.5 766.5 L702.5 767.5"/>
<path class="c" d="M669.4 741.4 L670.7 740.1 L672.1 738.0 L673.4 737.7 L673.7 739.0 L673.1 740.7 L674.1 741.7 L672.7 743.1 L671.1 742.7Z"/>
<path class="c" d="M675.1 739.4 L676.1 740.4 L675.4 741.4"/>
<path class="c" d="M677.4 743.7 L678.4 743.4 L678.9 744.1 L678.1 744.6Z"/>
<path class="c" d="M686.5 742.4 L689.5 741.3 L689.8 742.1 L686.8 743.1Z"/>
<path class="c" d="M684.5 733.7 L685.8 734.0 L686.8 735.4 L685.5 736.4 L684.3 735.7Z"/>
<path class="c" d="M688.5 734.7 L690.2 736.0 L692.2 737.0 L694.5 737.7 L696.2 738.7 L695.5 740.7 L693.8 741.1 L692.2 740.1 L690.5 738.4 L689.1 736.7Z"/>
<path class="c" d="M690.2 736.7 L692.2 738.4 L694.2 739.4 L695.2 739.0"/>
<path class="c" d="M698.2 740.7 L699.9 742.7 L701.5 744.4 L700.2 744.4 L698.5 742.4Z"/>
<path class="c" d="M699.2 747.3 L702.2 746.1 L702.5 746.6 L699.7 748.0Z"/>
<g stroke="#000" fill="none" stroke-linecap="butt" stroke-linejoin="miter">
<path d="M351.0 651.3 L354.7 640 L364.5 640 L368.2 651.3" stroke-width="1.6"/>
<path d="M354.7 640 L352.2 633.2 M359.6 640 L359.6 633.2 M364.5 640 L367.0 633.2" stroke-width="1.6"/>
<path d="M350.5 651.5 L357.2 651.5 M362.0 651.5 L368.7 651.5" stroke-width="2.8"/>
</g>
</g>
<rect x="188.5" y="321.4" width="854.0999999999999" height="569.0" fill="none" stroke="#000" stroke-width="1.1" style="stroke-width:1.1"/>
</g>
</svg>
<div id="txt" style="position:absolute;left:0;top:0;width:1200px;height:1000px;will-change:transform;">
<div class="t" style="left:387.14px;top:29.38px;font-size:26.25px;line-height:26.25px;color:#000;"><span style="left:0.44px;letter-spacing:0.872px">Probability</span> <span style="left:140.66px;letter-spacing:1.102px">of</span> <span style="left:172.52px;letter-spacing:0.733px">Exceeding</span> <span style="left:309.83px;letter-spacing:1.089px">0.2</span> <span style="left:357.93px;letter-spacing:1.878px">mg</span> <span style="left:406.40px;letter-spacing:2.487px">m</span></div>
<div class="t" style="left:817.26px;top:25.85px;font-size:18.38px;line-height:18.38px;color:#000;"><span style="left:1.21px;letter-spacing:2.424px">−3</span></div>
<div class="t" style="left:497.95px;top:64.95px;font-size:23.33px;line-height:23.33px;color:#000;"><span style="left:0.08px;letter-spacing:0.155px">From</span> <span style="left:62.26px;letter-spacing:0.283px">FL050</span> <span style="left:137.47px;letter-spacing:1.425px">to</span> <span style="left:166.27px;letter-spacing:0.283px">FL100</span></div>
<div class="t" style="left:561.29px;top:90.55px;font-size:23.33px;line-height:23.33px;color:#000;"><span style="left:-0.05px;letter-spacing:-0.093px">For</span> <span style="left:40.92px;letter-spacing:-1.734px">ASKJA</span></div>
<div class="t" style="left:448.40px;top:117.55px;font-size:23.33px;line-height:23.33px;color:#000;"><span style="left:0.34px;letter-spacing:0.679px">Valid</span> <span style="left:61.33px;letter-spacing:1.435px">at</span> <span style="left:90.58px;letter-spacing:1.161px">2100</span> <span style="left:152.96px;letter-spacing:-1.300px">UTC</span> <span style="left:205.38px;letter-spacing:1.303px">27/11/2025</span></div>
<div class="t" style="left:367.59px;top:158.65px;font-size:14.58px;line-height:14.58px;color:#000;"><span style="left:0.10px;letter-spacing:0.208px">This</span> <span style="left:33.17px;letter-spacing:0.737px">chart</span> <span style="left:73.57px;letter-spacing:0.483px">displays</span> <span style="left:134.19px;letter-spacing:-0.223px">QVA</span> <span style="left:168.13px;letter-spacing:0.727px">compliant</span> <span style="left:241.43px;letter-spacing:0.585px">probabilistic</span> <span style="left:330.54px;letter-spacing:0.725px">data</span> <span style="left:366.28px;letter-spacing:0.789px">from</span> <span style="left:402.48px;letter-spacing:-0.293px">VAAC</span> <span style="left:444.69px;letter-spacing:0.374px">London</span></div>
<div class="t" style="left:492.75px;top:191.85px;font-size:14.58px;line-height:14.58px;color:#000;"><span style="left:0.11px;letter-spacing:0.212px">Issue</span> <span style="left:40.61px;letter-spacing:0.550px">Time:</span> <span style="left:83.79px;letter-spacing:0.726px">1200</span> <span style="left:122.78px;letter-spacing:-0.813px">UTC</span> <span style="left:155.50px;letter-spacing:0.726px">27</span> <span style="left:177.43px;letter-spacing:0.391px">Nov</span> <span style="left:209.12px;letter-spacing:0.726px">2025</span></div>
<div class="t" style="left:513.54px;top:215.48px;font-size:26.25px;line-height:26.25px;color:#dc0000;"><span style="left:-0.61px;letter-spacing:-1.220px">TEST</span> <span style="left:69.55px;letter-spacing:-1.220px">TEST</span> <span style="left:139.70px;letter-spacing:-1.220px">TEST</span></div>
<div class="t" style="left:279.06px;top:272.05px;font-size:13.65px;line-height:13.65px;color:#000;"><span style="left:0.28px;letter-spacing:0.566px">0.1</span></div>
<div class="t" style="left:347.13px;top:272.05px;font-size:13.65px;line-height:13.65px;color:#000;"><span style="left:0.34px;letter-spacing:0.680px">10</span></div>
<div class="t" style="left:412.13px;top:272.05px;font-size:13.65px;line-height:13.65px;color:#000;"><span style="left:0.34px;letter-spacing:0.680px">20</span></div>
<div class="t" style="left:477.13px;top:272.05px;font-size:13.65px;line-height:13.65px;color:#000;"><span style="left:0.34px;letter-spacing:0.680px">30</span></div>
<div class="t" style="left:542.13px;top:272.05px;font-size:13.65px;line-height:13.65px;color:#000;"><span style="left:0.34px;letter-spacing:0.680px">40</span></div>
<div class="t" style="left:607.13px;top:272.05px;font-size:13.65px;line-height:13.65px;color:#000;"><span style="left:0.34px;letter-spacing:0.680px">50</span></div>
<div class="t" style="left:672.13px;top:272.05px;font-size:13.65px;line-height:13.65px;color:#000;"><span style="left:0.34px;letter-spacing:0.680px">60</span></div>
<div class="t" style="left:737.13px;top:272.05px;font-size:13.65px;line-height:13.65px;color:#000;"><span style="left:0.34px;letter-spacing:0.680px">70</span></div>
<div class="t" style="left:802.13px;top:272.05px;font-size:13.65px;line-height:13.65px;color:#000;"><span style="left:0.34px;letter-spacing:0.680px">80</span></div>
<div class="t" style="left:867.13px;top:272.05px;font-size:13.65px;line-height:13.65px;color:#000;"><span style="left:0.34px;letter-spacing:0.680px">90</span></div>
<div class="t" style="left:927.99px;top:272.05px;font-size:13.65px;line-height:13.65px;color:#000;"><span style="left:0.34px;letter-spacing:0.680px">100</span></div>
<div class="t" style="left:973.20px;top:272.05px;font-size:13.65px;line-height:13.65px;color:#000;"><span style="left:0.21px;letter-spacing:0.423px">(%)</span></div>
<div class="t" style="left:305.03px;top:292.72px;font-size:20.41px;line-height:20.41px;color:#000;"><span style="left:0.28px;letter-spacing:0.551px">20°W</span></div>
<div class="t" style="left:305.03px;top:894.92px;font-size:20.41px;line-height:20.41px;color:#000;"><span style="left:0.28px;letter-spacing:0.551px">20°W</span></div>
<div class="t" style="left:491.93px;top:292.72px;font-size:20.41px;line-height:20.41px;color:#000;"><span style="left:0.51px;letter-spacing:1.010px">0°</span></div>
<div class="t" style="left:491.93px;top:894.92px;font-size:20.41px;line-height:20.41px;color:#000;"><span style="left:0.51px;letter-spacing:1.010px">0°</span></div>
<div class="t" style="left:651.41px;top:292.72px;font-size:20.41px;line-height:20.41px;color:#000;"><span style="left:0.14px;letter-spacing:0.272px">20°E</span></div>
<div class="t" style="left:651.41px;top:894.92px;font-size:20.41px;line-height:20.41px;color:#000;"><span style="left:0.14px;letter-spacing:0.272px">20°E</span></div>
<div class="t" style="left:822.91px;top:292.72px;font-size:20.41px;line-height:20.41px;color:#000;"><span style="left:0.14px;letter-spacing:0.272px">40°E</span></div>
<div class="t" style="left:822.91px;top:894.92px;font-size:20.41px;line-height:20.41px;color:#000;"><span style="left:0.14px;letter-spacing:0.272px">40°E</span></div>
<div class="t" style="left:994.41px;top:292.72px;font-size:20.41px;line-height:20.41px;color:#000;"><span style="left:0.14px;letter-spacing:0.272px">60°E</span></div>
<div class="t" style="left:994.41px;top:894.92px;font-size:20.41px;line-height:20.41px;color:#000;"><span style="left:0.14px;letter-spacing:0.272px">60°E</span></div>
<div class="t" style="left:133.23px;top:384.82px;font-size:20.41px;line-height:20.41px;color:#000;"><span style="left:0.27px;letter-spacing:0.541px">75°N</span></div>
<div class="t" style="left:1048.80px;top:384.82px;font-size:20.41px;line-height:20.41px;color:#000;"><span style="left:0.27px;letter-spacing:0.541px">75°N</span></div>
<div class="t" style="left:133.23px;top:528.32px;font-size:20.41px;line-height:20.41px;color:#000;"><span style="left:0.27px;letter-spacing:0.541px">70°N</span></div>
<div class="t" style="left:1048.80px;top:528.32px;font-size:20.41px;line-height:20.41px;color:#000;"><span style="left:0.27px;letter-spacing:0.541px">70°N</span></div>
<div class="t" style="left:133.23px;top:640.62px;font-size:20.41px;line-height:20.41px;color:#000;"><span style="left:0.27px;letter-spacing:0.541px">65°N</span></div>
<div class="t" style="left:1048.80px;top:640.62px;font-size:20.41px;line-height:20.41px;color:#000;"><span style="left:0.27px;letter-spacing:0.541px">65°N</span></div>
<div class="t" style="left:133.23px;top:733.92px;font-size:20.41px;line-height:20.41px;color:#000;"><span style="left:0.27px;letter-spacing:0.541px">60°N</span></div>
<div class="t" style="left:1048.80px;top:733.92px;font-size:20.41px;line-height:20.41px;color:#000;"><span style="left:0.27px;letter-spacing:0.541px">60°N</span></div>
<div class="t" style="left:133.23px;top:812.62px;font-size:20.41px;line-height:20.41px;color:#000;"><span style="left:0.27px;letter-spacing:0.541px">55°N</span></div>
<div class="t" style="left:1048.80px;top:812.62px;font-size:20.41px;line-height:20.41px;color:#000;"><span style="left:0.27px;letter-spacing:0.541px">55°N</span></div>
<div class="t" style="left:60.20px;top:963.25px;font-size:14.58px;line-height:14.58px;color:#000;"><span style="left:1.57px;letter-spacing:3.144px">©</span> <span style="left:18.58px;letter-spacing:0.555px">Met</span> <span style="left:48.92px;letter-spacing:0.452px">Office</span> <span style="left:93.82px;letter-spacing:0.324px">Crown</span> <span style="left:142.14px;letter-spacing:0.606px">Copyright</span></div>
<div class="t" style="left:14.4px;top:91.35px;font-size:21.8px;line-height:21.8px;font-weight:bold;color:#231f20;transform:scaleX(0.882);transform-origin:0 0;letter-spacing:-0.2px;-webkit-text-stroke:0.25px #231f20;">Met Office</div>
</div>
</body></html>
